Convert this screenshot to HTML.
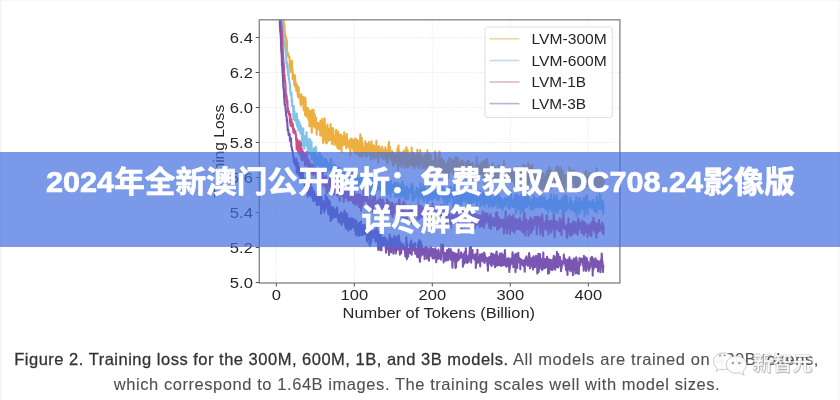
<!DOCTYPE html>
<html lang="zh-CN">
<head>
<meta charset="utf-8">
<title>2024年全新澳门公开解析：免费获取ADC708.24影像版详尽解答</title>
<style>
html,body{margin:0;padding:0}
body{width:840px;height:400px;overflow:hidden;position:relative;background:#fff;font-family:"Liberation Sans",sans-serif}
.edge{position:absolute;left:0;top:0;width:840px;height:400px;box-sizing:border-box;border-left:2px solid #f6f6f6;border-top:1px solid #f8f8f8;border-right:2px solid #f9f9f9}
.chart{position:absolute;left:0;top:0}
.chart,.cap,.wm,.banner svg{filter:blur(0.3px)}
.cap{position:absolute;white-space:nowrap;-webkit-text-stroke:0.1px #505050;font-size:16.5px;line-height:20px;color:#505050;margin:0}
.cap b{font-weight:normal;color:#333;-webkit-text-stroke:0.28px #333}
#c1{top:349.4px;left:14.25px}
#c2{top:374.1px;left:113.75px}
.wm{position:absolute;left:700px;top:340px}
.banner{position:absolute;left:0;top:152px;width:840px;height:95.2px;background:rgba(66,110,222,0.7)}
.banner h1{position:absolute;left:40px;top:10px;width:760px;margin:0;font-size:30px;line-height:37.5px;font-weight:bold;text-align:center;color:transparent}
.banner svg{position:absolute;left:0;top:-152px}
</style>
</head>
<body>
<div class="edge"></div>
<svg class="chart" width="840" height="400" viewBox="0 0 840 400">
<defs><clipPath id="pc"><rect x="259.3" y="19.8" width="360.59999999999997" height="263.2"/></clipPath></defs>
<path d="M276.3,19.8V283.0M354.3,19.8V283.0M432.3,19.8V283.0M510.3,19.8V283.0M588.3,19.8V283.0M259.3,282.5H619.9M259.3,247.5H619.9M259.3,212.5H619.9M259.3,177.5H619.9M259.3,142.5H619.9M259.3,107.5H619.9M259.3,72.5H619.9M259.3,37.5H619.9" stroke="#e4e4e4" stroke-width="1" stroke-dasharray="1 1.6" fill="none"/>
<g clip-path="url(#pc)" fill="none" stroke-width="2.1" stroke-linejoin="round">
<path d="M282.7,13.1 283.0,11.7 283.2,12.5 283.5,18.6 283.7,23.1 284.0,22.7 284.2,24.0 284.5,25.2 284.8,34.1 285.0,37.3 285.3,34.6 285.5,37.4 285.8,36.4 286.0,39.8 286.3,44.6 286.6,46.8 286.8,39.9 287.1,49.8 287.3,52.7 287.6,55.1 287.8,52.6 288.1,53.7 288.4,56.5 288.6,56.8 288.9,56.9 289.1,56.6 289.4,56.4 289.6,60.5 289.9,68.5 290.2,60.9 290.4,69.4 290.7,66.1 290.9,71.9 291.2,67.5 291.4,71.5 291.7,68.9 292.0,60.8 292.2,72.0 292.5,69.6 292.7,79.1 293.0,76.1 293.2,73.4 293.5,77.5 293.8,76.7 294.0,78.9 294.3,84.6 294.5,79.1 294.8,86.0 295.1,75.6 295.3,86.8 295.6,82.6 295.8,86.6 296.1,83.3 296.3,91.2 296.6,84.8 296.9,90.7 297.1,85.1 297.4,88.8 297.6,91.9 297.9,97.0 298.1,90.3 298.4,92.4 298.7,87.3 298.9,97.8 299.2,93.8 299.4,94.7 299.7,96.4 299.9,97.4 300.2,98.1 300.5,102.7 300.7,105.4 301.0,102.9 301.2,98.4 301.5,94.3 301.7,97.6 302.0,97.8 302.3,99.7 302.5,100.7 302.8,103.8 303.0,101.4 303.3,96.8 303.5,108.0 303.8,110.4 304.1,97.5 304.3,106.7 304.6,103.5 304.8,104.5 305.1,115.2 305.3,97.6 305.6,101.4 305.9,110.0 306.1,107.6 306.4,111.2 306.6,116.8 306.9,113.4 307.1,111.4 307.4,108.1 307.7,110.6 307.9,114.4 308.2,108.2 308.4,119.4 308.7,112.0 309.0,110.8 309.2,118.3 309.5,126.4 309.7,122.3 310.0,116.9 310.2,115.9 310.5,111.1 310.8,124.4 311.0,119.7 311.3,116.7 311.5,121.2 311.8,132.7 312.0,116.9 312.3,109.6 312.6,116.5 312.8,126.6 313.1,124.3 313.3,121.3 313.6,110.1 313.8,119.8 314.1,122.6 314.4,115.5 314.6,124.1 314.9,114.5 315.1,127.6 315.4,126.8 315.6,120.9 315.9,117.6 316.2,121.7 316.4,123.7 316.7,134.7 316.9,129.3 317.2,129.0 317.4,128.8 317.7,123.4 318.0,128.3 318.2,122.8 318.5,126.6 318.7,128.9 319.0,126.8 319.2,125.4 319.5,123.5 319.8,130.5 320.0,129.4 320.3,135.4 320.5,120.5 320.8,121.5 321.0,129.9 321.3,131.7 321.6,135.7 321.8,128.8 322.1,128.7 322.3,118.9 322.6,128.9 322.9,134.3 323.1,142.9 323.4,123.5 323.6,129.9 323.9,139.1 324.1,130.2 324.4,139.4 324.7,118.2 324.9,125.9 325.2,128.8 325.4,132.7 325.7,142.8 325.9,132.8 326.2,140.1 326.5,129.4 326.7,143.4 327.0,137.3 327.2,126.6 327.5,124.6 327.7,139.0 328.0,141.0 328.3,128.8 328.5,129.1 328.8,138.6 329.0,137.2 329.3,137.3 329.5,140.0 329.8,137.5 330.1,127.8 330.3,130.8 330.6,124.0 330.8,135.0 331.1,135.4 331.3,139.8 331.6,135.5 331.9,141.7 332.1,144.2 332.4,131.7 332.6,128.1 332.9,131.3 333.1,128.9 333.4,134.5 333.7,139.5 333.9,135.6 334.2,138.0 334.4,141.9 334.7,145.0 334.9,144.0 335.2,136.7 335.5,136.0 335.7,139.3 336.0,129.8 336.2,136.3 336.5,134.4 336.8,131.3 337.0,141.7 337.3,147.7 337.5,134.0 337.8,141.5 338.0,131.5 338.3,136.6 338.6,133.3 338.8,134.7 339.1,149.2 339.3,135.2 339.6,142.4 339.8,142.9 340.1,141.4 340.4,135.4 340.6,135.0 340.9,134.5 341.1,148.2 341.4,142.9 341.6,152.1 341.9,140.6 342.2,137.2 342.4,144.3 342.7,139.3 342.9,139.5 343.2,135.7 343.4,145.1 343.7,145.2 344.0,145.0 344.2,132.4 344.5,135.8 344.7,142.1 345.0,140.5 345.2,141.1 345.5,140.8 345.8,143.0 346.0,143.7 346.3,148.5 346.5,145.5 346.8,134.0 347.0,139.8 347.3,142.2 347.6,143.8 347.8,142.5 348.1,141.1 348.3,146.3 348.6,142.1 348.8,142.0 349.1,147.1 349.4,147.4 349.6,148.6 349.9,149.0 350.1,139.2 350.4,155.8 350.6,145.2 350.9,147.1 351.2,147.2 351.4,143.7 351.7,138.5 351.9,144.0 352.2,145.2 352.5,147.7 352.7,145.3 353.0,140.1 353.2,146.8 353.5,150.7 353.7,151.4 354.0,150.7 354.3,152.3 354.5,139.7 354.8,143.6 355.0,146.7 355.3,138.2 355.5,149.0 355.8,141.9 356.1,141.8 356.3,153.8 356.6,153.9 356.8,150.8 357.1,141.6 357.3,139.7 357.6,152.6 357.9,141.2 358.1,148.5 358.4,148.7 358.6,149.5 358.9,148.5 359.1,156.2 359.4,152.1 359.7,153.4 359.9,144.7 360.2,136.7 360.4,134.2 360.7,149.2 360.9,156.3 361.2,149.7 361.5,152.5 361.7,137.7 362.0,145.0 362.2,151.7 362.5,143.3 362.7,145.4 363.0,156.5 363.3,151.0 363.5,149.6 363.8,148.4 364.0,147.9 364.3,150.3 364.5,147.7 364.8,151.8 365.1,153.4 365.3,141.3 365.6,147.2 365.8,146.9 366.1,157.3 366.4,150.1 366.6,145.2 366.9,156.0 367.1,144.0 367.4,151.6 367.6,147.6 367.9,150.4 368.2,148.7 368.4,143.8 368.7,152.0 368.9,142.1 369.2,154.1 369.4,154.9 369.7,146.7 370.0,155.8 370.2,152.3 370.5,145.9 370.7,144.4 371.0,159.7 371.2,148.1 371.5,141.2 371.8,144.8 372.0,152.1 372.3,154.0 372.5,152.6 372.8,157.0 373.0,152.5 373.3,152.2 373.6,152.0 373.8,145.4 374.1,152.6 374.3,158.9 374.6,146.2 374.8,157.1 375.1,154.0 375.4,152.4 375.6,153.6 375.9,157.0 376.1,153.2 376.4,140.9 376.6,155.1 376.9,152.8 377.2,146.5 377.4,148.5 377.7,148.4 377.9,148.0 378.2,162.4 378.4,156.9 378.7,151.9 379.0,150.1 379.2,146.1 379.5,150.4 379.7,154.0 380.0,152.7 380.3,154.0 380.5,151.7 380.8,149.6 381.0,154.8 381.3,157.3 381.5,157.6 381.8,147.7 382.1,146.8 382.3,148.4 382.6,149.1 382.8,149.3 383.1,153.6 383.3,150.3 383.6,159.0 383.9,154.8 384.1,157.5 384.4,150.2 384.6,156.9 384.9,154.5 385.1,152.0 385.4,147.2 385.7,158.2 385.9,159.0 386.2,150.1 386.4,159.9 386.7,152.1 386.9,157.3 387.2,155.0 387.5,163.8 387.7,151.0 388.0,157.2 388.2,159.3 388.5,144.2 388.7,151.2 389.0,141.7 389.3,152.9 389.5,156.8 389.8,154.5 390.0,147.0 390.3,155.3 390.5,152.9 390.8,152.7 391.1,160.0 391.3,154.7 391.6,158.0 391.8,161.8 392.1,151.1 392.3,152.2 392.6,155.3 392.9,160.3 393.1,165.9 393.4,153.4 393.6,156.4 393.9,164.5 394.2,156.3 394.4,163.8 394.7,156.2 394.9,155.4 395.2,154.4 395.4,155.1 395.7,155.4 396.0,162.1 396.2,158.3 396.5,159.0 396.7,157.7 397.0,155.2 397.2,153.5 397.5,148.4 397.8,169.7 398.0,154.7 398.3,157.8 398.5,145.3 398.8,152.2 399.0,165.4 399.3,155.0 399.6,159.7 399.8,152.1 400.1,162.5 400.3,157.7 400.6,157.9 400.8,157.8 401.1,160.4 401.4,166.8 401.6,155.2 401.9,152.5 402.1,157.9 402.4,162.8 402.6,156.7 402.9,154.9 403.2,158.7 403.4,157.9 403.7,150.8 403.9,163.7 404.2,160.9 404.4,167.8 404.7,161.7 405.0,162.0 405.2,163.1 405.5,161.8 405.7,149.3 406.0,159.4 406.2,159.1 406.5,147.4 406.8,158.9 407.0,167.4 407.3,156.7 407.5,163.5 407.8,150.5 408.0,165.2 408.3,161.9 408.6,167.1 408.8,158.5 409.1,164.2 409.3,159.5 409.6,161.1 409.9,162.3 410.1,154.5 410.4,154.6 410.6,159.1 410.9,164.0 411.1,164.9 411.4,158.2 411.7,147.5 411.9,162.0 412.2,163.7 412.4,163.3 412.7,165.4 412.9,164.8 413.2,161.0 413.5,152.7 413.7,160.0 414.0,162.7 414.2,168.3 414.5,159.1 414.7,160.4 415.0,166.5 415.3,165.8 415.5,160.6 415.8,155.3 416.0,157.3 416.3,159.5 416.5,162.2 416.8,159.0 417.1,160.7 417.3,149.7 417.6,166.5 417.8,162.7 418.1,154.4 418.3,162.3 418.6,153.7 418.9,161.2 419.1,160.3 419.4,163.0 419.6,168.2 419.9,166.1 420.1,150.0 420.4,158.0 420.7,158.3 420.9,156.6 421.2,158.6 421.4,156.3 421.7,162.9 421.9,162.7 422.2,156.7 422.5,163.5 422.7,168.5 423.0,163.0 423.2,164.6 423.5,158.8 423.8,165.6 424.0,167.4 424.3,163.7 424.5,154.2 424.8,162.4 425.0,161.4 425.3,162.2 425.6,160.8 425.8,157.6 426.1,155.3 426.3,170.8 426.6,155.6 426.8,162.5 427.1,164.2 427.4,150.4 427.6,163.5 427.9,152.8 428.1,157.8 428.4,168.0 428.6,160.4 428.9,159.2 429.2,163.6 429.4,174.8 429.7,164.8 429.9,164.1 430.2,168.7 430.4,153.9 430.7,164.5 431.0,165.3 431.2,164.8 431.5,167.3 431.7,167.3 432.0,163.0 432.2,161.9 432.5,166.1 432.8,164.0 433.0,170.7 433.3,161.0 433.5,167.5 433.8,162.7 434.0,168.4 434.3,166.5 434.6,162.8 434.8,170.1 435.1,151.5 435.3,164.2 435.6,164.4 435.8,167.8 436.1,156.1 436.4,157.2 436.6,162.7 436.9,171.2 437.1,166.9 437.4,161.3 437.7,167.0 437.9,170.5 438.2,170.5 438.4,168.5 438.7,164.5 438.9,167.9 439.2,164.6 439.5,151.5 439.7,155.8 440.0,170.1 440.2,163.1 440.5,164.5 440.7,165.6 441.0,159.7 441.3,166.7 441.5,166.7 441.8,167.0 442.0,165.7 442.3,158.7 442.5,161.3 442.8,172.1 443.1,167.6 443.3,169.4 443.6,161.3 443.8,164.3 444.1,161.0 444.3,165.9 444.6,175.3 444.9,163.3 445.1,164.5 445.4,163.1 445.6,172.4 445.9,165.4 446.1,169.3 446.4,169.4 446.7,164.1 446.9,164.2 447.2,170.5 447.4,174.7 447.7,178.6 447.9,169.0 448.2,160.5 448.5,166.5 448.7,177.7 449.0,170.7 449.2,164.2 449.5,157.9 449.7,160.5 450.0,164.6 450.3,165.5 450.5,171.9 450.8,168.9 451.0,168.3 451.3,170.6 451.6,166.4 451.8,168.7 452.1,165.1 452.3,159.5 452.6,163.1 452.8,164.8 453.1,168.2 453.4,174.7 453.6,167.6 453.9,164.3 454.1,172.2 454.4,160.8 454.6,168.9 454.9,165.3 455.2,168.9 455.4,173.7 455.7,156.8 455.9,173.3 456.2,162.7 456.4,170.3 456.7,166.1 457.0,171.6 457.2,169.7 457.5,162.9 457.7,157.8 458.0,172.0 458.2,167.7 458.5,163.0 458.8,171.0 459.0,164.2 459.3,171.9 459.5,164.9 459.8,165.7 460.0,161.8 460.3,166.2 460.6,174.1 460.8,164.7 461.1,173.7 461.3,164.4 461.6,160.6 461.8,165.2 462.1,171.1 462.4,162.3 462.6,167.5 462.9,174.7 463.1,170.2 463.4,161.3 463.6,170.1 463.9,167.9 464.2,170.3 464.4,177.2 464.7,171.3 464.9,166.9 465.2,167.7 465.5,169.7 465.7,179.7 466.0,162.7 466.2,165.2 466.5,163.7 466.7,162.4 467.0,171.3 467.3,172.1 467.5,167.5 467.8,160.6 468.0,177.7 468.3,170.4 468.5,172.9 468.8,166.4 469.1,161.9 469.3,170.8 469.6,175.7 469.8,169.2 470.1,170.9 470.3,177.3 470.6,165.0 470.9,172.2 471.1,166.1 471.4,176.3 471.6,164.1 471.9,177.0 472.1,164.4 472.4,179.0 472.7,162.8 472.9,171.8 473.2,177.8 473.4,171.1 473.7,168.3 473.9,175.0 474.2,172.6 474.5,168.7 474.7,171.0 475.0,183.4 475.2,172.4 475.5,168.1 475.7,168.8 476.0,165.2 476.3,173.9 476.5,157.4 476.8,166.4 477.0,168.9 477.3,165.0 477.5,165.7 477.8,170.1 478.1,173.8 478.3,165.4 478.6,168.5 478.8,180.3 479.1,176.4 479.3,168.4 479.6,170.3 479.9,169.4 480.1,167.6 480.4,170.2 480.6,162.9 480.9,174.0 481.2,173.1 481.4,169.4 481.7,167.3 481.9,167.2 482.2,163.6 482.4,173.6 482.7,165.3 483.0,168.9 483.2,176.6 483.5,172.1 483.7,160.8 484.0,167.5 484.2,173.9 484.5,183.7 484.8,175.3 485.0,175.1 485.3,171.2 485.5,159.9 485.8,167.9 486.0,170.1 486.3,176.5 486.6,177.8 486.8,172.9 487.1,174.2 487.3,158.7 487.6,174.0 487.8,175.1 488.1,166.3 488.4,171.6 488.6,178.3 488.9,165.6 489.1,173.7 489.4,178.9 489.6,170.6 489.9,169.8 490.2,174.0 490.4,168.8 490.7,168.2 490.9,176.9 491.2,182.9 491.4,184.6 491.7,173.1 492.0,166.3 492.2,167.5 492.5,165.5 492.7,163.2 493.0,172.6 493.2,167.3 493.5,180.5 493.8,169.3 494.0,170.8 494.3,173.3 494.5,175.1 494.8,178.6 495.1,172.2 495.3,166.5 495.6,174.9 495.8,170.3 496.1,176.4 496.3,171.8 496.6,178.2 496.9,171.3 497.1,174.3 497.4,171.6 497.6,176.3 497.9,179.3 498.1,175.0 498.4,168.1 498.7,165.4 498.9,175.1 499.2,169.4 499.4,169.7 499.7,171.5 499.9,181.4 500.2,172.0 500.5,178.6 500.7,167.7 501.0,169.7 501.2,170.6 501.5,186.6 501.7,170.6 502.0,170.3 502.3,180.4 502.5,169.0 502.8,173.6 503.0,174.9 503.3,177.6 503.5,179.2 503.8,176.3 504.1,160.9 504.3,173.1 504.6,173.1 504.8,177.5 505.1,177.4 505.3,177.1 505.6,178.8 505.9,169.9 506.1,175.7 506.4,170.0 506.6,180.3 506.9,169.7 507.1,174.6 507.4,171.1 507.7,175.1 507.9,179.1 508.2,168.5 508.4,176.9 508.7,175.4 509.0,179.2 509.2,173.7 509.5,176.7 509.7,173.4 510.0,173.1 510.2,178.3 510.5,182.0 510.8,172.7 511.0,170.3 511.3,171.4 511.5,180.8 511.8,171.9 512.0,173.1 512.3,173.6 512.6,172.9 512.8,176.8 513.1,174.1 513.3,170.5 513.6,177.8 513.8,182.5 514.1,175.8 514.4,174.3 514.6,184.7 514.9,178.7 515.1,172.3 515.4,176.1 515.6,174.9 515.9,181.8 516.2,170.8 516.4,166.6 516.7,176.5 516.9,179.2 517.2,181.4 517.4,171.0 517.7,175.1 518.0,179.6 518.2,169.5 518.5,171.8 518.7,172.6 519.0,184.6 519.2,176.3 519.5,172.6 519.8,182.0 520.0,171.1 520.3,168.6 520.5,170.6 520.8,179.5 521.0,179.5 521.3,171.1 521.6,170.9 521.8,169.7 522.1,169.9 522.3,176.5 522.6,178.1 522.9,185.5 523.1,172.1 523.4,164.6 523.6,178.5 523.9,178.6 524.1,172.9 524.4,174.3 524.7,183.2 524.9,179.9 525.2,181.8 525.4,166.0 525.7,180.0 525.9,172.0 526.2,166.6 526.5,166.8 526.7,169.2 527.0,168.2 527.2,182.7 527.5,178.2 527.7,180.2 528.0,178.0 528.3,163.4 528.5,185.1 528.8,173.8 529.0,182.9 529.3,169.9 529.5,170.1 529.8,179.3 530.1,166.2 530.3,176.4 530.6,170.1 530.8,175.2 531.1,179.6 531.3,178.8 531.6,177.5 531.9,173.7 532.1,176.3 532.4,164.9 532.6,177.9 532.9,179.3 533.1,180.6 533.4,181.0 533.7,184.3 533.9,182.1 534.2,172.5 534.4,176.8 534.7,178.0 534.9,175.4 535.2,171.8 535.5,174.1 535.7,173.3 536.0,180.1 536.2,178.6 536.5,181.2 536.7,177.8 537.0,181.5 537.3,179.2 537.5,178.3 537.8,178.5 538.0,178.8 538.3,179.9 538.6,170.8 538.8,179.2 539.1,182.6 539.3,176.5 539.6,183.1 539.8,183.0 540.1,177.2 540.4,186.1 540.6,190.8 540.9,176.2 541.1,172.4 541.4,186.2 541.6,182.3 541.9,174.8 542.2,187.9 542.4,182.2 542.7,183.9 542.9,178.8 543.2,187.9 543.4,173.3 543.7,178.6 544.0,176.4 544.2,179.6 544.5,188.7 544.7,178.8 545.0,184.8 545.2,178.0 545.5,182.4 545.8,179.7 546.0,179.2 546.3,174.2 546.5,174.3 546.8,183.3 547.0,178.3 547.3,170.8 547.6,175.7 547.8,182.0 548.1,178.9 548.3,180.1 548.6,173.5 548.8,178.2 549.1,176.4 549.4,167.1 549.6,185.4 549.9,183.6 550.1,187.2 550.4,186.5 550.6,174.1 550.9,177.0 551.2,170.2 551.4,188.5 551.7,183.0 551.9,171.2 552.2,173.4 552.5,174.1 552.7,174.2 553.0,178.5 553.2,178.7 553.5,178.5 553.7,174.4 554.0,179.5 554.3,177.1 554.5,171.4 554.8,184.5 555.0,182.6 555.3,175.9 555.5,180.1 555.8,179.6 556.1,168.2 556.3,176.8 556.6,181.0 556.8,173.3 557.1,166.1 557.3,184.6 557.6,182.4 557.9,178.4 558.1,182.2 558.4,168.0 558.6,176.4 558.9,181.1 559.1,176.6 559.4,183.1 559.7,182.2 559.9,178.6 560.2,167.0 560.4,190.6 560.7,177.0 560.9,172.3 561.2,175.4 561.5,169.5 561.7,176.9 562.0,178.5 562.2,179.9 562.5,183.6 562.7,171.0 563.0,185.3 563.3,180.0 563.5,182.0 563.8,183.4 564.0,190.7 564.3,181.3 564.5,178.7 564.8,178.7 565.1,175.2 565.3,180.3 565.6,182.7 565.8,177.9 566.1,176.1 566.4,184.1 566.6,187.3 566.9,184.8 567.1,174.2 567.4,174.5 567.6,184.1 567.9,179.1 568.2,175.4 568.4,172.9 568.7,183.0 568.9,180.9 569.2,172.6 569.4,167.5 569.7,172.0 570.0,185.6 570.2,177.5 570.5,181.3 570.7,180.1 571.0,183.2 571.2,182.3 571.5,179.9 571.8,170.7 572.0,176.4 572.3,177.8 572.5,179.8 572.8,183.8 573.0,181.1 573.3,173.7 573.6,175.8 573.8,170.1 574.1,178.7 574.3,180.2 574.6,188.3 574.8,178.1 575.1,188.9 575.4,172.4 575.6,183.3 575.9,180.2 576.1,187.0 576.4,182.7 576.6,184.9 576.9,174.5 577.2,179.0 577.4,186.2 577.7,190.1 577.9,180.6 578.2,182.8 578.4,186.0 578.7,177.3 579.0,181.3 579.2,179.8 579.5,183.4 579.7,183.3 580.0,182.8 580.3,188.6 580.5,177.3 580.8,178.4 581.0,189.2 581.3,180.0 581.5,174.7 581.8,179.3 582.1,174.0 582.3,181.9 582.6,180.6 582.8,187.2 583.1,185.2 583.3,189.9 583.6,185.2 583.9,179.4 584.1,178.0 584.4,174.8 584.6,180.0 584.9,185.8 585.1,178.6 585.4,181.5 585.7,171.7 585.9,170.9 586.2,175.9 586.4,186.6 586.7,183.5 586.9,179.9 587.2,184.5 587.5,178.2 587.7,177.4 588.0,176.7 588.2,179.8 588.5,185.4 588.7,185.2 589.0,181.6 589.3,174.3 589.5,173.0 589.8,176.1 590.0,179.2 590.3,177.6 590.5,176.9 590.8,174.5 591.1,176.8 591.3,188.9 591.6,176.3 591.8,179.2 592.1,183.5 592.3,178.5 592.6,179.7 592.9,181.5 593.1,189.8 593.4,180.7 593.6,178.4 593.9,181.5 594.2,189.4 594.4,179.0 594.7,177.7 594.9,180.4 595.2,179.2 595.4,183.2 595.7,184.7 596.0,178.7 596.2,183.2 596.5,180.5 596.7,168.3 597.0,177.9 597.2,180.8 597.5,189.7 597.8,181.0 598.0,177.7 598.3,185.1 598.5,182.8 598.8,193.0 599.0,178.8 599.3,184.6 599.6,178.1 599.8,174.7 600.1,182.5 600.3,176.7 600.6,180.4 600.8,182.7 601.1,183.1 601.4,186.0 601.6,175.2 601.9,177.3 602.1,186.9 602.4,177.5 602.6,185.5 602.9,189.4 603.2,175.7 603.4,188.3 603.7,175.8" stroke="#EDB040"/>
<path d="M281.4,13.9 281.6,13.0 281.9,16.5 282.1,19.5 282.4,19.3 282.7,23.9 282.9,27.6 283.2,26.3 283.4,34.5 283.7,39.5 283.9,42.8 284.2,43.4 284.5,43.1 284.7,44.9 285.0,46.5 285.2,47.0 285.5,49.4 285.7,54.1 286.0,54.5 286.3,58.2 286.5,63.4 286.8,61.7 287.0,65.7 287.3,68.4 287.5,64.3 287.8,69.5 288.1,74.9 288.3,75.6 288.6,70.4 288.8,79.8 289.1,78.7 289.3,80.9 289.6,83.1 289.9,84.7 290.1,89.9 290.4,91.8 290.6,92.7 290.9,95.2 291.2,93.2 291.4,92.5 291.7,102.2 291.9,99.1 292.2,105.8 292.4,106.4 292.7,106.4 293.0,106.6 293.2,109.9 293.5,118.9 293.7,105.7 294.0,112.8 294.2,115.1 294.5,111.2 294.8,116.8 295.0,120.8 295.3,114.2 295.5,115.3 295.8,120.9 296.0,115.1 296.3,117.7 296.6,124.4 296.8,113.5 297.1,120.2 297.3,126.7 297.6,120.9 297.8,122.9 298.1,120.0 298.4,130.5 298.6,121.0 298.9,122.1 299.1,123.8 299.4,124.8 299.6,122.3 299.9,125.5 300.2,128.8 300.4,133.7 300.7,125.7 300.9,126.9 301.2,130.5 301.4,131.8 301.7,129.9 302.0,144.8 302.2,132.8 302.5,145.9 302.7,134.4 303.0,131.3 303.2,128.2 303.5,139.2 303.8,135.8 304.0,138.6 304.3,148.7 304.5,136.1 304.8,139.9 305.1,140.1 305.3,145.1 305.6,141.6 305.8,141.6 306.1,136.8 306.3,141.6 306.6,132.3 306.9,145.7 307.1,145.6 307.4,145.1 307.6,148.9 307.9,139.1 308.1,143.4 308.4,152.3 308.7,146.7 308.9,142.5 309.2,154.3 309.4,147.8 309.7,149.9 309.9,139.0 310.2,147.9 310.5,151.9 310.7,153.0 311.0,142.5 311.2,153.3 311.5,141.5 311.7,158.9 312.0,153.1 312.3,153.7 312.5,156.0 312.8,154.2 313.0,150.5 313.3,156.8 313.5,160.5 313.8,148.4 314.1,148.1 314.3,158.0 314.6,153.8 314.8,166.9 315.1,151.1 315.3,161.9 315.6,158.7 315.9,146.9 316.1,162.4 316.4,157.0 316.6,162.1 316.9,165.8 317.1,163.0 317.4,156.9 317.7,164.1 317.9,161.2 318.2,155.6 318.4,159.8 318.7,165.1 319.0,152.9 319.2,159.3 319.5,153.8 319.7,164.9 320.0,153.0 320.2,166.7 320.5,168.7 320.8,163.1 321.0,163.1 321.3,160.5 321.5,164.4 321.8,159.3 322.0,156.4 322.3,165.4 322.6,168.9 322.8,164.7 323.1,159.5 323.3,159.7 323.6,165.1 323.8,168.1 324.1,164.0 324.4,159.8 324.6,167.5 324.9,158.7 325.1,163.6 325.4,163.5 325.6,167.8 325.9,159.1 326.2,165.1 326.4,172.1 326.7,162.0 326.9,167.7 327.2,161.2 327.4,165.4 327.7,169.1 328.0,165.7 328.2,168.8 328.5,170.4 328.7,166.8 329.0,163.4 329.2,166.9 329.5,167.8 329.8,170.0 330.0,165.2 330.3,166.7 330.5,163.8 330.8,166.5 331.0,158.9 331.3,175.4 331.6,168.9 331.8,166.4 332.1,164.9 332.3,175.9 332.6,174.6 332.9,169.5 333.1,164.8 333.4,164.8 333.6,176.5 333.9,169.4 334.1,164.9 334.4,170.1 334.7,174.9 334.9,173.7 335.2,176.6 335.4,165.5 335.7,172.1 335.9,173.0 336.2,175.1 336.5,172.0 336.7,175.5 337.0,175.9 337.2,171.9 337.5,172.9 337.7,170.0 338.0,171.5 338.3,167.0 338.5,172.6 338.8,171.4 339.0,171.7 339.3,176.4 339.5,167.7 339.8,175.6 340.1,180.2 340.3,167.8 340.6,170.6 340.8,176.1 341.1,169.5 341.3,169.6 341.6,170.9 341.9,179.3 342.1,173.4 342.4,178.9 342.6,177.2 342.9,177.1 343.1,178.5 343.4,172.7 343.7,178.4 343.9,172.3 344.2,174.4 344.4,178.0 344.7,174.7 344.9,172.5 345.2,170.6 345.5,176.9 345.7,168.2 346.0,173.4 346.2,170.6 346.5,182.2 346.7,181.0 347.0,171.1 347.3,177.5 347.5,174.6 347.8,171.4 348.0,183.2 348.3,174.9 348.6,168.5 348.8,173.6 349.1,176.8 349.3,174.8 349.6,177.4 349.8,174.1 350.1,171.9 350.4,178.7 350.6,175.3 350.9,176.6 351.1,174.7 351.4,174.4 351.6,182.9 351.9,173.1 352.2,174.6 352.4,183.3 352.7,179.8 352.9,185.1 353.2,180.0 353.4,177.4 353.7,184.1 354.0,182.5 354.2,183.0 354.5,182.3 354.7,182.7 355.0,184.1 355.2,177.0 355.5,180.6 355.8,183.3 356.0,175.4 356.3,182.4 356.5,176.0 356.8,185.5 357.0,174.0 357.3,182.2 357.6,184.5 357.8,178.6 358.1,186.4 358.3,185.4 358.6,179.6 358.8,182.9 359.1,179.1 359.4,180.3 359.6,179.9 359.9,180.5 360.1,178.1 360.4,181.3 360.6,176.5 360.9,177.3 361.2,190.2 361.4,189.4 361.7,174.9 361.9,183.8 362.2,181.1 362.5,182.5 362.7,180.9 363.0,172.4 363.2,185.4 363.5,182.0 363.7,182.4 364.0,187.2 364.3,186.4 364.5,183.8 364.8,182.8 365.0,181.1 365.3,191.5 365.5,189.9 365.8,175.8 366.1,183.9 366.3,179.6 366.6,185.2 366.8,186.5 367.1,174.2 367.3,189.0 367.6,187.6 367.9,180.7 368.1,183.7 368.4,191.1 368.6,183.3 368.9,180.8 369.1,190.8 369.4,186.6 369.7,180.8 369.9,175.9 370.2,194.6 370.4,187.4 370.7,184.4 370.9,188.5 371.2,188.6 371.5,186.8 371.7,182.4 372.0,189.4 372.2,181.0 372.5,181.2 372.7,181.1 373.0,178.2 373.3,187.3 373.5,185.3 373.8,180.7 374.0,179.6 374.3,181.0 374.5,187.2 374.8,187.4 375.1,191.1 375.3,187.3 375.6,189.3 375.8,187.6 376.1,187.2 376.4,181.9 376.6,181.8 376.9,185.9 377.1,190.7 377.4,186.0 377.6,183.9 377.9,182.1 378.2,185.0 378.4,182.4 378.7,188.9 378.9,183.2 379.2,182.8 379.4,187.7 379.7,189.5 380.0,180.8 380.2,190.6 380.5,183.3 380.7,187.5 381.0,187.9 381.2,187.5 381.5,188.4 381.8,186.7 382.0,178.7 382.3,180.2 382.5,187.2 382.8,184.6 383.0,182.8 383.3,188.6 383.6,178.8 383.8,186.7 384.1,184.2 384.3,191.1 384.6,191.9 384.8,191.4 385.1,189.9 385.4,182.6 385.6,188.6 385.9,183.3 386.1,189.1 386.4,191.5 386.6,186.6 386.9,189.1 387.2,194.7 387.4,187.3 387.7,182.3 387.9,188.5 388.2,192.9 388.4,191.0 388.7,193.0 389.0,188.8 389.2,191.9 389.5,188.3 389.7,187.1 390.0,182.1 390.3,193.0 390.5,197.0 390.8,180.9 391.0,186.2 391.3,189.7 391.5,185.9 391.8,192.2 392.1,189.7 392.3,185.3 392.6,189.7 392.8,187.8 393.1,186.5 393.3,187.9 393.6,189.5 393.9,186.3 394.1,182.7 394.4,183.0 394.6,192.5 394.9,185.3 395.1,197.0 395.4,194.9 395.7,187.0 395.9,186.5 396.2,182.9 396.4,196.4 396.7,184.2 396.9,191.4 397.2,191.1 397.5,187.1 397.7,182.9 398.0,193.3 398.2,196.7 398.5,191.8 398.7,189.8 399.0,184.0 399.3,187.7 399.5,190.7 399.8,191.6 400.0,191.5 400.3,185.2 400.5,196.8 400.8,192.6 401.1,193.4 401.3,184.7 401.6,189.1 401.8,192.7 402.1,186.5 402.3,181.3 402.6,185.4 402.9,195.6 403.1,190.8 403.4,185.0 403.6,197.9 403.9,195.4 404.1,191.9 404.4,187.8 404.7,193.8 404.9,189.6 405.2,190.9 405.4,188.9 405.7,195.6 406.0,200.1 406.2,199.8 406.5,189.7 406.7,186.2 407.0,188.4 407.2,197.6 407.5,198.2 407.8,191.9 408.0,194.7 408.3,198.8 408.5,193.3 408.8,194.3 409.0,191.4 409.3,189.2 409.6,190.1 409.8,190.2 410.1,188.7 410.3,191.5 410.6,193.1 410.8,192.6 411.1,186.0 411.4,192.4 411.6,187.7 411.9,184.0 412.1,183.7 412.4,200.7 412.6,190.7 412.9,187.1 413.2,193.5 413.4,194.6 413.7,197.8 413.9,194.5 414.2,191.6 414.4,199.9 414.7,191.8 415.0,195.4 415.2,191.7 415.5,196.5 415.7,191.5 416.0,191.2 416.2,195.0 416.5,194.9 416.8,187.9 417.0,189.3 417.3,195.5 417.5,190.2 417.8,197.2 418.0,194.4 418.3,203.7 418.6,194.7 418.8,189.3 419.1,194.5 419.3,189.8 419.6,195.2 419.9,191.1 420.1,193.1 420.4,196.8 420.6,183.4 420.9,196.3 421.1,198.5 421.4,192.1 421.7,190.6 421.9,191.2 422.2,193.2 422.4,190.7 422.7,188.7 422.9,190.1 423.2,198.9 423.5,185.4 423.7,193.1 424.0,201.9 424.2,189.4 424.5,193.7 424.7,191.9 425.0,184.4 425.3,195.5 425.5,195.9 425.8,197.5 426.0,192.4 426.3,190.4 426.5,191.6 426.8,192.6 427.1,202.7 427.3,192.3 427.6,188.7 427.8,195.7 428.1,195.9 428.3,198.0 428.6,192.5 428.9,200.4 429.1,185.3 429.4,194.6 429.6,196.3 429.9,199.1 430.1,191.4 430.4,189.6 430.7,196.3 430.9,193.1 431.2,192.6 431.4,189.7 431.7,191.3 431.9,188.6 432.2,200.2 432.5,182.8 432.7,196.3 433.0,199.0 433.2,198.2 433.5,192.5 433.8,190.9 434.0,183.7 434.3,188.9 434.5,197.7 434.8,195.9 435.0,196.4 435.3,197.1 435.6,195.2 435.8,197.2 436.1,189.4 436.3,193.1 436.6,191.9 436.8,195.3 437.1,199.7 437.4,192.8 437.6,196.4 437.9,186.0 438.1,189.4 438.4,200.1 438.6,199.2 438.9,197.3 439.2,195.8 439.4,189.9 439.7,195.7 439.9,193.0 440.2,196.4 440.4,196.0 440.7,189.7 441.0,195.1 441.2,186.5 441.5,195.4 441.7,193.5 442.0,193.5 442.2,192.4 442.5,186.9 442.8,198.3 443.0,197.7 443.3,199.5 443.5,187.5 443.8,193.4 444.0,193.5 444.3,193.5 444.6,203.6 444.8,192.2 445.1,195.0 445.3,194.3 445.6,195.3 445.8,196.1 446.1,196.0 446.4,198.2 446.6,196.8 446.9,193.0 447.1,205.1 447.4,192.2 447.7,193.1 447.9,200.6 448.2,193.7 448.4,194.6 448.7,198.3 448.9,188.6 449.2,195.3 449.5,196.7 449.7,201.8 450.0,186.6 450.2,195.2 450.5,194.8 450.7,197.2 451.0,187.2 451.3,196.9 451.5,189.4 451.8,191.7 452.0,192.1 452.3,193.6 452.5,191.4 452.8,197.0 453.1,205.5 453.3,208.0 453.6,191.7 453.8,205.6 454.1,190.7 454.3,185.3 454.6,204.9 454.9,194.0 455.1,194.6 455.4,199.9 455.6,205.4 455.9,197.2 456.1,189.4 456.4,197.3 456.7,196.9 456.9,196.5 457.2,196.8 457.4,195.7 457.7,187.0 457.9,200.9 458.2,205.0 458.5,193.4 458.7,199.4 459.0,199.3 459.2,203.3 459.5,198.0 459.7,199.1 460.0,195.4 460.3,199.0 460.5,203.7 460.8,195.2 461.0,197.7 461.3,205.6 461.6,198.9 461.8,194.1 462.1,197.7 462.3,198.9 462.6,194.9 462.8,200.3 463.1,200.6 463.4,195.3 463.6,198.3 463.9,200.4 464.1,196.7 464.4,196.6 464.6,193.7 464.9,193.4 465.2,197.4 465.4,197.9 465.7,201.9 465.9,197.0 466.2,199.5 466.4,194.3 466.7,194.5 467.0,195.2 467.2,198.2 467.5,196.6 467.7,191.5 468.0,190.6 468.2,200.7 468.5,209.6 468.8,195.4 469.0,204.9 469.3,198.0 469.5,196.2 469.8,191.7 470.0,199.0 470.3,198.8 470.6,200.8 470.8,197.0 471.1,203.7 471.3,195.9 471.6,196.9 471.8,192.6 472.1,199.8 472.4,197.1 472.6,197.7 472.9,198.6 473.1,202.8 473.4,201.1 473.6,198.4 473.9,196.5 474.2,194.2 474.4,201.3 474.7,197.6 474.9,196.1 475.2,195.0 475.4,197.7 475.7,197.9 476.0,200.4 476.2,198.7 476.5,199.7 476.7,206.5 477.0,202.0 477.3,209.4 477.5,196.8 477.8,195.2 478.0,200.6 478.3,198.3 478.5,198.4 478.8,200.2 479.1,192.7 479.3,200.0 479.6,197.8 479.8,199.5 480.1,190.5 480.3,206.4 480.6,198.4 480.9,205.1 481.1,202.4 481.4,203.5 481.6,196.0 481.9,204.1 482.1,203.8 482.4,200.9 482.7,203.6 482.9,203.8 483.2,192.6 483.4,202.4 483.7,203.0 483.9,193.6 484.2,199.2 484.5,194.8 484.7,206.7 485.0,200.9 485.2,197.6 485.5,198.8 485.7,197.4 486.0,194.3 486.3,197.2 486.5,195.0 486.8,196.6 487.0,203.1 487.3,199.0 487.5,194.2 487.8,204.0 488.1,197.6 488.3,197.2 488.6,194.2 488.8,207.3 489.1,189.7 489.3,206.8 489.6,200.1 489.9,189.1 490.1,206.0 490.4,190.4 490.6,199.0 490.9,191.8 491.2,193.9 491.4,199.6 491.7,203.7 491.9,201.6 492.2,205.9 492.4,206.3 492.7,198.7 493.0,206.7 493.2,198.8 493.5,200.7 493.7,201.0 494.0,205.0 494.2,205.9 494.5,197.0 494.8,204.7 495.0,203.1 495.3,201.4 495.5,197.6 495.8,192.0 496.0,192.1 496.3,197.2 496.6,197.8 496.8,197.8 497.1,201.7 497.3,201.7 497.6,208.3 497.8,198.4 498.1,203.0 498.4,199.2 498.6,191.1 498.9,197.1 499.1,195.9 499.4,197.1 499.6,203.4 499.9,203.8 500.2,207.4 500.4,203.5 500.7,200.3 500.9,198.1 501.2,198.6 501.4,202.6 501.7,206.1 502.0,201.0 502.2,199.8 502.5,209.8 502.7,200.8 503.0,207.5 503.2,203.3 503.5,201.9 503.8,205.6 504.0,203.6 504.3,201.3 504.5,205.8 504.8,198.4 505.1,198.6 505.3,199.1 505.6,206.1 505.8,202.4 506.1,203.0 506.3,201.1 506.6,198.3 506.9,203.9 507.1,201.5 507.4,198.1 507.6,203.1 507.9,198.6 508.1,201.8 508.4,207.9 508.7,201.9 508.9,201.1 509.2,203.6 509.4,193.5 509.7,203.5 509.9,208.2 510.2,202.6 510.5,202.9 510.7,199.7 511.0,190.9 511.2,201.3 511.5,198.4 511.7,205.1 512.0,206.1 512.3,205.1 512.5,202.9 512.8,204.0 513.0,202.1 513.3,204.9 513.5,207.3 513.8,205.5 514.1,198.7 514.3,207.1 514.6,198.7 514.8,195.0 515.1,206.2 515.3,198.2 515.6,198.5 515.9,213.6 516.1,198.5 516.4,199.4 516.6,205.6 516.9,194.5 517.1,210.0 517.4,196.6 517.7,201.1 517.9,206.8 518.2,201.8 518.4,209.0 518.7,199.7 519.0,199.9 519.2,197.0 519.5,196.2 519.7,205.4 520.0,200.2 520.2,205.1 520.5,213.9 520.8,198.3 521.0,197.3 521.3,201.5 521.5,194.9 521.8,202.7 522.0,210.0 522.3,204.5 522.6,203.7 522.8,201.3 523.1,204.3 523.3,212.3 523.6,208.0 523.8,203.2 524.1,197.7 524.4,205.5 524.6,208.3 524.9,204.7 525.1,198.6 525.4,197.2 525.6,206.9 525.9,199.7 526.2,196.9 526.4,199.2 526.7,207.5 526.9,200.1 527.2,204.9 527.4,205.0 527.7,194.3 528.0,202.9 528.2,200.6 528.5,197.4 528.7,195.6 529.0,201.6 529.2,205.5 529.5,203.0 529.8,205.8 530.0,203.4 530.3,203.4 530.5,209.4 530.8,206.3 531.0,209.1 531.3,203.2 531.6,199.4 531.8,199.7 532.1,202.1 532.3,207.2 532.6,203.3 532.8,209.0 533.1,200.5 533.4,209.8 533.6,205.8 533.9,195.5 534.1,201.2 534.4,207.3 534.7,204.0 534.9,207.6 535.2,206.6 535.4,204.9 535.7,206.8 535.9,202.3 536.2,198.4 536.5,206.9 536.7,207.2 537.0,206.7 537.2,205.9 537.5,202.6 537.7,206.1 538.0,207.1 538.3,206.2 538.5,198.9 538.8,199.0 539.0,198.7 539.3,202.5 539.5,207.4 539.8,197.3 540.1,193.6 540.3,206.2 540.6,206.0 540.8,198.6 541.1,200.3 541.3,201.6 541.6,194.2 541.9,204.2 542.1,206.9 542.4,205.0 542.6,202.4 542.9,202.6 543.1,198.0 543.4,200.1 543.7,206.6 543.9,200.3 544.2,204.3 544.4,196.9 544.7,198.5 544.9,206.1 545.2,201.1 545.5,209.2 545.7,201.5 546.0,203.2 546.2,201.6 546.5,208.9 546.7,207.3 547.0,206.1 547.3,204.6 547.5,200.7 547.8,207.2 548.0,212.5 548.3,206.1 548.6,200.3 548.8,199.9 549.1,209.3 549.3,200.9 549.6,203.3 549.8,200.6 550.1,203.0 550.4,198.3 550.6,206.9 550.9,194.3 551.1,199.0 551.4,208.9 551.6,210.6 551.9,199.3 552.2,210.7 552.4,207.3 552.7,201.7 552.9,204.5 553.2,203.2 553.4,213.3 553.7,207.2 554.0,201.7 554.2,194.8 554.5,202.1 554.7,203.8 555.0,203.4 555.2,199.5 555.5,201.2 555.8,207.9 556.0,212.7 556.3,205.0 556.5,205.7 556.8,196.0 557.0,207.8 557.3,200.7 557.6,212.8 557.8,200.6 558.1,209.8 558.3,204.0 558.6,205.0 558.8,203.7 559.1,204.1 559.4,209.2 559.6,201.5 559.9,208.1 560.1,204.4 560.4,207.9 560.6,204.3 560.9,204.7 561.2,205.1 561.4,207.7 561.7,198.9 561.9,205.0 562.2,204.0 562.5,213.9 562.7,201.7 563.0,211.2 563.2,205.2 563.5,213.3 563.7,196.0 564.0,212.1 564.3,205.5 564.5,209.9 564.8,210.0 565.0,212.1 565.3,198.0 565.5,195.0 565.8,205.0 566.1,200.8 566.3,206.6 566.6,209.2 566.8,196.5 567.1,201.7 567.3,209.6 567.6,205.0 567.9,204.6 568.1,205.8 568.4,204.9 568.6,207.5 568.9,204.9 569.1,206.4 569.4,206.0 569.7,208.0 569.9,197.8 570.2,206.5 570.4,205.6 570.7,203.6 570.9,204.6 571.2,210.4 571.5,200.9 571.7,210.1 572.0,207.6 572.2,202.9 572.5,205.7 572.7,207.9 573.0,204.7 573.3,208.5 573.5,207.4 573.8,210.0 574.0,210.3 574.3,209.2 574.5,204.6 574.8,207.1 575.1,205.5 575.3,200.9 575.6,206.9 575.8,213.0 576.1,204.6 576.4,197.1 576.6,216.0 576.9,206.1 577.1,209.9 577.4,211.6 577.6,201.5 577.9,205.2 578.2,205.1 578.4,210.7 578.7,207.2 578.9,209.9 579.2,198.4 579.4,205.2 579.7,213.9 580.0,206.5 580.2,198.6 580.5,208.5 580.7,206.3 581.0,205.4 581.2,203.0 581.5,203.0 581.8,207.8 582.0,206.7 582.3,202.1 582.5,209.6 582.8,206.6 583.0,203.7 583.3,206.2 583.6,209.5 583.8,198.0 584.1,204.5 584.3,206.4 584.6,216.3 584.8,200.4 585.1,201.1 585.4,205.4 585.6,205.1 585.9,208.9 586.1,196.4 586.4,201.3 586.6,195.4 586.9,195.3 587.2,213.2 587.4,202.4 587.7,214.3 587.9,203.6 588.2,205.1 588.4,207.7 588.7,202.4 589.0,204.6 589.2,206.7 589.5,206.4 589.7,201.2 590.0,203.2 590.3,201.6 590.5,203.9 590.8,207.3 591.0,207.4 591.3,204.3 591.5,208.4 591.8,208.1 592.1,201.8 592.3,204.4 592.6,206.3 592.8,204.4 593.1,207.0 593.3,199.7 593.6,206.2 593.9,205.2 594.1,210.5 594.4,208.4 594.6,211.1 594.9,203.5 595.1,203.0 595.4,202.7 595.7,206.9 595.9,205.2 596.2,203.8 596.4,207.0 596.7,212.8 596.9,196.8 597.2,203.3 597.5,201.5 597.7,201.9 598.0,208.7 598.2,205.6 598.5,207.6 598.7,200.8 599.0,204.7 599.3,208.6 599.5,204.1 599.8,194.0 600.0,205.6 600.3,203.4 600.5,196.3 600.8,209.6 601.1,204.2 601.3,200.2 601.6,202.7 601.8,208.2 602.1,205.7 602.3,205.1 602.6,201.4 602.9,201.1 603.1,214.2 603.4,205.3 603.6,208.8 603.9,204.3" stroke="#7FC4E6"/>
<path d="M280.4,13.4 280.7,13.4 280.9,20.7 281.2,25.8 281.5,25.5 281.7,28.6 282.0,33.3 282.2,37.5 282.5,43.6 282.8,49.7 283.0,54.8 283.3,57.9 283.5,62.4 283.8,63.5 284.0,68.0 284.3,76.0 284.6,75.0 284.8,80.2 285.1,80.8 285.3,83.1 285.6,88.5 285.8,97.3 286.1,93.8 286.4,101.9 286.6,95.9 286.9,103.7 287.1,104.2 287.4,100.2 287.6,111.5 287.9,107.9 288.2,112.4 288.4,112.2 288.7,114.2 288.9,111.1 289.2,115.1 289.4,114.3 289.7,114.4 290.0,122.7 290.2,114.0 290.5,120.2 290.7,125.7 291.0,123.5 291.2,119.4 291.5,119.9 291.8,126.4 292.0,124.7 292.3,125.1 292.5,123.2 292.8,128.1 293.0,125.0 293.3,132.5 293.6,132.7 293.8,128.6 294.1,129.1 294.3,132.8 294.6,131.1 294.8,133.4 295.1,132.0 295.4,131.3 295.6,134.5 295.9,134.1 296.1,139.7 296.4,141.1 296.7,149.2 296.9,138.8 297.2,141.1 297.4,139.8 297.7,150.6 297.9,145.6 298.2,146.7 298.5,152.9 298.7,142.0 299.0,141.3 299.2,153.0 299.5,146.2 299.7,141.2 300.0,155.0 300.3,145.8 300.5,143.8 300.8,143.2 301.0,158.3 301.3,157.5 301.5,152.4 301.8,148.6 302.1,160.1 302.3,158.3 302.6,160.5 302.8,151.0 303.1,159.0 303.3,154.4 303.6,154.5 303.9,152.7 304.1,156.5 304.4,157.3 304.6,154.0 304.9,157.6 305.1,165.8 305.4,163.0 305.7,157.0 305.9,160.8 306.2,163.5 306.4,161.2 306.7,151.9 306.9,163.4 307.2,161.4 307.5,161.9 307.7,165.6 308.0,159.4 308.2,161.3 308.5,163.7 308.7,171.9 309.0,160.5 309.3,163.1 309.5,167.3 309.8,179.1 310.0,167.8 310.3,173.3 310.5,169.2 310.8,170.8 311.1,172.5 311.3,164.5 311.6,168.8 311.8,164.1 312.1,174.2 312.4,171.1 312.6,164.3 312.9,169.3 313.1,174.3 313.4,175.3 313.6,174.2 313.9,172.2 314.2,169.0 314.4,171.7 314.7,169.2 314.9,169.1 315.2,172.6 315.4,167.6 315.7,170.3 316.0,174.7 316.2,174.9 316.5,174.5 316.7,178.0 317.0,180.9 317.2,175.0 317.5,177.7 317.8,173.0 318.0,178.6 318.3,175.7 318.5,175.5 318.8,178.7 319.0,176.0 319.3,180.3 319.6,179.2 319.8,173.9 320.1,176.0 320.3,178.0 320.6,181.7 320.8,175.3 321.1,169.6 321.4,188.6 321.6,174.3 321.9,178.3 322.1,174.5 322.4,174.4 322.6,184.5 322.9,172.3 323.2,183.0 323.4,181.6 323.7,177.9 323.9,181.3 324.2,179.9 324.4,183.6 324.7,186.2 325.0,181.6 325.2,186.8 325.5,176.1 325.7,181.2 326.0,176.2 326.3,188.3 326.5,192.2 326.8,193.3 327.0,185.0 327.3,189.3 327.5,182.0 327.8,190.4 328.1,190.3 328.3,183.0 328.6,186.2 328.8,181.5 329.1,181.1 329.3,183.4 329.6,190.6 329.9,189.2 330.1,175.3 330.4,186.7 330.6,184.5 330.9,185.5 331.1,186.3 331.4,187.1 331.7,189.1 331.9,189.0 332.2,195.9 332.4,179.6 332.7,187.7 332.9,193.3 333.2,185.3 333.5,184.7 333.7,194.4 334.0,190.4 334.2,181.5 334.5,186.0 334.7,186.7 335.0,184.3 335.3,189.5 335.5,190.4 335.8,182.1 336.0,190.2 336.3,189.9 336.5,186.8 336.8,189.7 337.1,195.6 337.3,181.7 337.6,190.6 337.8,182.4 338.1,188.3 338.3,194.8 338.6,183.9 338.9,191.8 339.1,195.0 339.4,191.4 339.6,201.0 339.9,189.7 340.2,194.9 340.4,192.8 340.7,195.8 340.9,188.9 341.2,190.4 341.4,187.3 341.7,184.8 342.0,191.1 342.2,192.0 342.5,191.2 342.7,196.3 343.0,195.2 343.2,189.5 343.5,196.8 343.8,201.7 344.0,194.7 344.3,192.1 344.5,186.8 344.8,196.6 345.0,197.7 345.3,193.2 345.6,194.4 345.8,192.7 346.1,196.2 346.3,193.1 346.6,196.7 346.8,189.8 347.1,193.1 347.4,191.8 347.6,196.5 347.9,201.0 348.1,194.6 348.4,195.0 348.6,190.0 348.9,190.6 349.2,195.2 349.4,195.4 349.7,199.7 349.9,195.5 350.2,194.5 350.4,197.4 350.7,200.5 351.0,190.0 351.2,199.9 351.5,188.5 351.7,190.7 352.0,189.2 352.2,199.9 352.5,193.4 352.8,202.5 353.0,198.0 353.3,203.3 353.5,199.9 353.8,198.9 354.1,192.5 354.3,192.0 354.6,198.6 354.8,198.3 355.1,201.3 355.3,202.3 355.6,205.2 355.9,198.3 356.1,194.8 356.4,201.0 356.6,196.0 356.9,202.8 357.1,202.3 357.4,200.3 357.7,194.0 357.9,200.4 358.2,194.7 358.4,199.8 358.7,203.2 358.9,207.3 359.2,200.6 359.5,202.8 359.7,194.6 360.0,196.8 360.2,206.1 360.5,195.1 360.7,196.6 361.0,210.8 361.3,203.7 361.5,198.1 361.8,206.3 362.0,202.6 362.3,197.1 362.5,198.4 362.8,197.6 363.1,197.0 363.3,203.7 363.6,189.3 363.8,197.6 364.1,190.5 364.3,201.2 364.6,197.7 364.9,198.7 365.1,200.9 365.4,199.0 365.6,199.3 365.9,196.9 366.1,199.2 366.4,200.4 366.7,198.6 366.9,194.4 367.2,200.6 367.4,198.3 367.7,200.4 368.0,209.8 368.2,205.2 368.5,205.3 368.7,207.5 369.0,204.1 369.2,209.3 369.5,200.4 369.8,204.0 370.0,196.3 370.3,200.1 370.5,207.4 370.8,202.9 371.0,201.8 371.3,205.0 371.6,203.7 371.8,207.0 372.1,205.5 372.3,201.1 372.6,203.9 372.8,197.2 373.1,211.9 373.4,206.1 373.6,204.3 373.9,196.3 374.1,197.9 374.4,199.6 374.6,198.7 374.9,196.0 375.2,200.1 375.4,204.2 375.7,202.4 375.9,206.5 376.2,204.4 376.4,201.8 376.7,205.7 377.0,203.1 377.2,205.6 377.5,209.5 377.7,210.1 378.0,200.8 378.2,203.8 378.5,200.4 378.8,204.5 379.0,204.2 379.3,203.0 379.5,205.8 379.8,198.3 380.0,200.0 380.3,202.7 380.6,209.1 380.8,207.0 381.1,203.8 381.3,199.7 381.6,205.0 381.8,205.0 382.1,202.7 382.4,204.5 382.6,205.8 382.9,210.1 383.1,199.9 383.4,205.5 383.7,207.6 383.9,205.9 384.2,211.3 384.4,212.9 384.7,213.4 384.9,204.1 385.2,211.6 385.5,205.3 385.7,211.1 386.0,213.7 386.2,208.7 386.5,209.3 386.7,209.2 387.0,198.7 387.3,205.4 387.5,208.9 387.8,202.6 388.0,207.9 388.3,201.2 388.5,213.4 388.8,201.9 389.1,211.5 389.3,210.0 389.6,206.0 389.8,211.6 390.1,214.2 390.3,208.8 390.6,208.4 390.9,214.3 391.1,203.0 391.4,210.9 391.6,210.1 391.9,208.4 392.1,207.3 392.4,202.9 392.7,217.0 392.9,207.6 393.2,203.8 393.4,206.7 393.7,208.2 393.9,212.8 394.2,206.5 394.5,210.1 394.7,207.5 395.0,212.8 395.2,209.6 395.5,208.9 395.7,214.8 396.0,203.9 396.3,208.9 396.5,214.1 396.8,209.6 397.0,208.0 397.3,210.1 397.6,213.2 397.8,209.7 398.1,214.8 398.3,216.1 398.6,203.8 398.8,201.5 399.1,200.9 399.4,199.2 399.6,203.2 399.9,213.3 400.1,211.7 400.4,204.5 400.6,211.4 400.9,210.9 401.2,209.5 401.4,207.7 401.7,215.5 401.9,209.5 402.2,207.5 402.4,218.7 402.7,204.9 403.0,206.5 403.2,213.4 403.5,201.9 403.7,208.2 404.0,207.9 404.2,203.3 404.5,221.4 404.8,210.2 405.0,205.6 405.3,204.1 405.5,210.5 405.8,211.2 406.0,213.8 406.3,212.0 406.6,214.3 406.8,221.1 407.1,213.2 407.3,215.1 407.6,213.4 407.8,212.8 408.1,213.0 408.4,210.5 408.6,211.3 408.9,212.6 409.1,213.8 409.4,211.6 409.6,212.5 409.9,211.8 410.2,205.2 410.4,210.3 410.7,213.1 410.9,220.4 411.2,217.8 411.5,222.9 411.7,207.7 412.0,206.8 412.2,213.4 412.5,213.8 412.7,209.7 413.0,209.3 413.3,219.5 413.5,213.0 413.8,213.3 414.0,217.5 414.3,205.9 414.5,208.8 414.8,214.8 415.1,212.4 415.3,214.7 415.6,214.5 415.8,214.1 416.1,207.9 416.3,212.4 416.6,214.5 416.9,215.5 417.1,211.4 417.4,216.4 417.6,219.7 417.9,213.3 418.1,205.8 418.4,215.7 418.7,212.1 418.9,213.7 419.2,207.5 419.4,210.8 419.7,218.5 419.9,205.4 420.2,213.0 420.5,217.1 420.7,215.3 421.0,212.9 421.2,208.5 421.5,214.5 421.7,216.5 422.0,207.5 422.3,206.5 422.5,214.9 422.8,212.8 423.0,211.8 423.3,214.8 423.5,217.5 423.8,209.0 424.1,218.4 424.3,221.7 424.6,211.1 424.8,208.6 425.1,210.2 425.4,217.1 425.6,214.9 425.9,218.6 426.1,216.2 426.4,224.7 426.6,217.8 426.9,208.0 427.2,219.2 427.4,206.5 427.7,213.3 427.9,222.7 428.2,210.0 428.4,218.4 428.7,211.8 429.0,215.1 429.2,215.9 429.5,215.1 429.7,220.2 430.0,217.8 430.2,216.2 430.5,206.7 430.8,217.1 431.0,213.1 431.3,212.6 431.5,209.3 431.8,215.7 432.0,213.8 432.3,218.8 432.6,203.6 432.8,221.3 433.1,213.7 433.3,216.4 433.6,214.2 433.8,217.2 434.1,216.9 434.4,210.7 434.6,210.8 434.9,215.4 435.1,215.7 435.4,214.3 435.6,215.5 435.9,213.3 436.2,211.9 436.4,213.2 436.7,222.2 436.9,215.6 437.2,220.0 437.4,213.4 437.7,216.7 438.0,214.1 438.2,215.9 438.5,211.4 438.7,209.6 439.0,214.8 439.2,222.2 439.5,215.6 439.8,207.0 440.0,218.7 440.3,216.1 440.5,205.0 440.8,208.4 441.1,213.0 441.3,214.9 441.6,221.7 441.8,208.7 442.1,212.0 442.3,223.4 442.6,216.6 442.9,216.6 443.1,216.4 443.4,219.0 443.6,205.3 443.9,220.0 444.1,209.8 444.4,213.5 444.7,216.3 444.9,214.3 445.2,213.1 445.4,219.8 445.7,218.0 445.9,211.1 446.2,212.3 446.5,214.8 446.7,221.8 447.0,223.7 447.2,210.0 447.5,210.3 447.7,214.4 448.0,215.0 448.3,218.2 448.5,214.6 448.8,211.5 449.0,213.5 449.3,219.2 449.5,215.3 449.8,219.3 450.1,217.2 450.3,221.8 450.6,227.4 450.8,221.6 451.1,216.2 451.3,220.6 451.6,214.7 451.9,219.6 452.1,215.9 452.4,219.2 452.6,210.9 452.9,219.0 453.1,217.2 453.4,212.3 453.7,210.8 453.9,222.5 454.2,211.0 454.4,222.1 454.7,221.7 455.0,221.2 455.2,213.1 455.5,222.2 455.7,215.0 456.0,215.8 456.2,218.5 456.5,215.7 456.8,208.6 457.0,210.7 457.3,221.4 457.5,216.6 457.8,219.5 458.0,218.4 458.3,220.2 458.6,215.5 458.8,221.7 459.1,223.4 459.3,217.8 459.6,216.6 459.8,212.8 460.1,215.1 460.4,221.9 460.6,222.2 460.9,216.8 461.1,217.1 461.4,215.1 461.6,212.5 461.9,228.1 462.2,221.0 462.4,216.0 462.7,223.1 462.9,211.1 463.2,218.8 463.4,215.9 463.7,219.4 464.0,217.0 464.2,216.8 464.5,216.2 464.7,224.6 465.0,227.0 465.2,219.0 465.5,215.2 465.8,219.8 466.0,219.5 466.3,214.1 466.5,215.9 466.8,223.0 467.0,218.1 467.3,219.8 467.6,218.6 467.8,219.3 468.1,216.4 468.3,219.1 468.6,217.5 468.9,218.9 469.1,220.0 469.4,221.6 469.6,217.9 469.9,217.2 470.1,212.3 470.4,208.4 470.7,222.2 470.9,222.1 471.2,214.7 471.4,221.1 471.7,218.8 471.9,224.9 472.2,216.8 472.5,225.8 472.7,215.1 473.0,223.1 473.2,218.5 473.5,215.2 473.7,223.2 474.0,220.1 474.3,210.3 474.5,225.7 474.8,219.1 475.0,228.4 475.3,218.2 475.5,220.5 475.8,224.6 476.1,225.0 476.3,214.4 476.6,216.9 476.8,225.1 477.1,216.3 477.3,223.9 477.6,223.4 477.9,218.2 478.1,220.5 478.4,217.7 478.6,215.3 478.9,222.8 479.1,217.7 479.4,218.8 479.7,227.3 479.9,216.7 480.2,215.8 480.4,226.2 480.7,221.6 480.9,216.0 481.2,216.4 481.5,221.9 481.7,221.3 482.0,221.7 482.2,225.7 482.5,219.9 482.8,211.2 483.0,226.6 483.3,220.6 483.5,224.6 483.8,213.9 484.0,227.7 484.3,216.7 484.6,218.6 484.8,224.3 485.1,222.0 485.3,220.4 485.6,213.2 485.8,219.5 486.1,215.5 486.4,216.1 486.6,220.3 486.9,220.6 487.1,221.1 487.4,213.7 487.6,215.2 487.9,216.6 488.2,223.8 488.4,222.1 488.7,217.6 488.9,221.8 489.2,226.9 489.4,227.5 489.7,219.0 490.0,217.7 490.2,218.7 490.5,214.3 490.7,228.0 491.0,229.0 491.2,220.7 491.5,217.4 491.8,224.9 492.0,220.2 492.3,219.9 492.5,223.4 492.8,225.0 493.0,222.8 493.3,221.8 493.6,218.2 493.8,222.7 494.1,225.7 494.3,226.2 494.6,223.5 494.8,219.3 495.1,225.3 495.4,223.2 495.6,219.3 495.9,220.5 496.1,212.7 496.4,219.5 496.7,219.0 496.9,212.5 497.2,229.9 497.4,229.4 497.7,225.2 497.9,221.3 498.2,216.7 498.5,218.9 498.7,224.3 499.0,228.3 499.2,220.4 499.5,223.2 499.7,226.3 500.0,227.5 500.3,219.1 500.5,223.4 500.8,221.3 501.0,222.6 501.3,225.6 501.5,224.3 501.8,225.0 502.1,222.6 502.3,225.4 502.6,219.7 502.8,226.7 503.1,221.4 503.3,221.9 503.6,219.8 503.9,233.8 504.1,219.8 504.4,221.1 504.6,224.6 504.9,224.2 505.1,224.4 505.4,229.2 505.7,211.2 505.9,223.7 506.2,220.9 506.4,228.1 506.7,224.9 506.9,233.3 507.2,223.5 507.5,226.9 507.7,223.1 508.0,221.3 508.2,217.3 508.5,223.0 508.7,228.0 509.0,225.5 509.3,220.8 509.5,215.3 509.8,234.1 510.0,228.9 510.3,226.5 510.5,224.2 510.8,220.7 511.1,217.4 511.3,221.0 511.6,217.3 511.8,226.4 512.1,227.2 512.4,230.8 512.6,227.1 512.9,220.8 513.1,223.7 513.4,215.0 513.6,225.2 513.9,228.2 514.2,221.5 514.4,232.8 514.7,220.4 514.9,222.5 515.2,230.1 515.4,222.0 515.7,223.1 516.0,218.7 516.2,225.3 516.5,226.6 516.7,224.2 517.0,224.8 517.2,228.8 517.5,220.3 517.8,220.1 518.0,227.5 518.3,226.9 518.5,229.1 518.8,226.5 519.0,227.5 519.3,224.6 519.6,221.6 519.8,217.9 520.1,228.6 520.3,228.0 520.6,229.7 520.8,224.8 521.1,221.3 521.4,228.6 521.6,224.8 521.9,229.1 522.1,231.0 522.4,227.2 522.6,221.2 522.9,226.4 523.2,232.6 523.4,229.3 523.7,226.3 523.9,216.3 524.2,230.2 524.4,212.7 524.7,220.7 525.0,219.5 525.2,220.9 525.5,235.4 525.7,224.1 526.0,224.0 526.3,222.8 526.5,219.5 526.8,225.4 527.0,228.6 527.3,223.0 527.5,224.4 527.8,223.2 528.1,227.1 528.3,225.3 528.6,235.7 528.8,224.2 529.1,220.6 529.3,224.7 529.6,225.5 529.9,222.4 530.1,226.5 530.4,226.1 530.6,217.6 530.9,217.5 531.1,233.0 531.4,227.8 531.7,223.9 531.9,221.8 532.2,230.4 532.4,227.7 532.7,222.3 532.9,219.9 533.2,229.4 533.5,226.6 533.7,226.5 534.0,220.3 534.2,223.1 534.5,223.4 534.7,217.0 535.0,221.7 535.3,224.7 535.5,218.2 535.8,217.9 536.0,218.8 536.3,217.0 536.5,223.4 536.8,234.2 537.1,226.7 537.3,224.3 537.6,225.3 537.8,221.7 538.1,223.9 538.3,216.5 538.6,222.5 538.9,220.9 539.1,219.8 539.4,218.6 539.6,227.3 539.9,218.7 540.2,225.2 540.4,234.1 540.7,217.5 540.9,223.9 541.2,219.7 541.4,229.9 541.7,222.3 542.0,228.5 542.2,214.6 542.5,218.4 542.7,225.6 543.0,236.0 543.2,225.0 543.5,224.0 543.8,225.7 544.0,223.7 544.3,226.7 544.5,222.5 544.8,223.5 545.0,228.8 545.3,221.7 545.6,223.0 545.8,226.1 546.1,228.6 546.3,229.6 546.6,215.2 546.8,215.1 547.1,222.0 547.4,227.5 547.6,222.2 547.9,229.0 548.1,230.2 548.4,234.5 548.6,228.2 548.9,228.8 549.2,221.0 549.4,224.0 549.7,228.7 549.9,227.3 550.2,226.4 550.4,226.0 550.7,225.8 551.0,220.7 551.2,232.5 551.5,225.0 551.7,225.3 552.0,222.2 552.2,226.2 552.5,229.3 552.8,222.2 553.0,220.9 553.3,229.3 553.5,221.1 553.8,214.5 554.1,228.1 554.3,222.9 554.6,237.3 554.8,224.8 555.1,229.9 555.3,223.9 555.6,226.9 555.9,224.6 556.1,221.0 556.4,221.7 556.6,221.8 556.9,228.9 557.1,226.9 557.4,226.1 557.7,227.9 557.9,229.6 558.2,225.8 558.4,223.8 558.7,227.0 558.9,231.2 559.2,221.4 559.5,228.8 559.7,218.4 560.0,224.9 560.2,225.1 560.5,220.6 560.7,225.8 561.0,231.6 561.3,225.5 561.5,235.1 561.8,224.7 562.0,225.8 562.3,223.9 562.5,226.2 562.8,218.0 563.1,225.5 563.3,228.3 563.6,215.0 563.8,226.3 564.1,222.9 564.3,227.1 564.6,227.7 564.9,226.7 565.1,229.1 565.4,226.6 565.6,227.5 565.9,228.8 566.1,230.1 566.4,228.0 566.7,237.2 566.9,225.3 567.2,237.9 567.4,228.3 567.7,227.1 567.9,229.7 568.2,226.7 568.5,218.5 568.7,226.2 569.0,229.0 569.2,225.3 569.5,230.1 569.8,235.1 570.0,230.5 570.3,224.3 570.5,228.0 570.8,224.6 571.0,224.0 571.3,235.7 571.6,233.7 571.8,231.0 572.1,232.9 572.3,224.6 572.6,231.3 572.8,232.4 573.1,221.3 573.4,233.4 573.6,233.1 573.9,222.0 574.1,227.0 574.4,228.2 574.6,225.0 574.9,230.2 575.2,228.9 575.4,229.0 575.7,222.2 575.9,227.9 576.2,233.5 576.4,233.1 576.7,225.4 577.0,233.7 577.2,234.0 577.5,230.5 577.7,234.8 578.0,226.6 578.2,218.5 578.5,219.1 578.8,226.8 579.0,221.1 579.3,226.6 579.5,227.5 579.8,224.6 580.0,227.3 580.3,229.5 580.6,228.0 580.8,228.8 581.1,226.1 581.3,223.0 581.6,233.0 581.8,230.0 582.1,232.8 582.4,220.5 582.6,224.5 582.9,226.8 583.1,232.0 583.4,223.6 583.7,232.5 583.9,234.9 584.2,231.0 584.4,222.3 584.7,228.3 584.9,229.8 585.2,230.6 585.5,223.9 585.7,231.8 586.0,230.6 586.2,225.5 586.5,225.2 586.7,228.4 587.0,225.8 587.3,226.3 587.5,236.7 587.8,227.8 588.0,230.6 588.3,228.5 588.5,228.1 588.8,226.8 589.1,224.3 589.3,232.3 589.6,230.9 589.8,230.1 590.1,228.3 590.3,234.9 590.6,227.8 590.9,224.7 591.1,230.7 591.4,236.1 591.6,224.9 591.9,222.0 592.1,226.1 592.4,221.4 592.7,223.0 592.9,228.5 593.2,229.3 593.4,217.8 593.7,225.0 593.9,229.8 594.2,222.4 594.5,231.6 594.7,229.9 595.0,222.2 595.2,223.8 595.5,230.2 595.7,223.9 596.0,224.6 596.3,237.7 596.5,228.8 596.8,224.1 597.0,227.2 597.3,232.7 597.6,224.7 597.8,230.6 598.1,224.6 598.3,226.8 598.6,223.4 598.8,231.5 599.1,220.0 599.4,229.3 599.6,229.2 599.9,230.6 600.1,228.8 600.4,227.6 600.6,229.7 600.9,225.5 601.2,225.8 601.4,229.1 601.7,228.7 601.9,227.4 602.2,224.3 602.4,222.6 602.7,232.5 603.0,225.2 603.2,225.3 603.5,234.3 603.7,226.5" stroke="#C8508C"/>
<path d="M279.4,13.8 279.7,17.9 279.9,25.8 280.2,31.0 280.4,32.3 280.7,35.4 281.0,42.0 281.2,49.7 281.5,53.3 281.7,55.2 282.0,65.9 282.3,65.8 282.5,71.5 282.8,75.9 283.0,79.4 283.3,86.1 283.5,88.8 283.8,88.0 284.1,96.1 284.3,99.3 284.6,104.5 284.8,105.1 285.1,104.8 285.3,106.0 285.6,109.8 285.9,112.0 286.1,114.1 286.4,116.7 286.6,116.8 286.9,121.5 287.1,119.9 287.4,124.5 287.7,130.2 287.9,130.9 288.2,129.3 288.4,131.5 288.7,135.1 288.9,135.1 289.2,133.7 289.5,134.4 289.7,134.4 290.0,141.0 290.2,138.6 290.5,138.0 290.7,141.4 291.0,138.3 291.3,146.7 291.5,146.5 291.8,147.1 292.0,150.3 292.3,150.3 292.5,150.6 292.8,152.7 293.1,155.4 293.3,156.4 293.6,156.2 293.8,162.4 294.1,157.2 294.3,162.7 294.6,160.5 294.9,164.4 295.1,160.8 295.4,163.4 295.6,163.7 295.9,166.3 296.2,163.8 296.4,158.8 296.7,172.7 296.9,164.4 297.2,166.2 297.4,169.4 297.7,173.7 298.0,162.8 298.2,169.1 298.5,166.5 298.7,172.8 299.0,175.1 299.2,168.0 299.5,170.0 299.8,175.1 300.0,175.3 300.3,172.4 300.5,179.0 300.8,179.7 301.0,176.9 301.3,173.0 301.6,174.1 301.8,177.5 302.1,173.1 302.3,180.0 302.6,181.9 302.8,170.3 303.1,182.9 303.4,178.6 303.6,179.3 303.9,181.6 304.1,181.5 304.4,180.0 304.6,181.0 304.9,186.3 305.2,184.2 305.4,178.7 305.7,181.9 305.9,187.3 306.2,185.6 306.4,190.5 306.7,192.1 307.0,189.3 307.2,180.6 307.5,190.5 307.7,196.6 308.0,189.1 308.2,191.9 308.5,186.2 308.8,184.4 309.0,191.5 309.3,189.9 309.5,194.6 309.8,186.0 310.1,194.6 310.3,191.8 310.6,182.1 310.8,196.5 311.1,192.2 311.3,193.4 311.6,191.6 311.9,191.9 312.1,187.8 312.4,192.4 312.6,192.2 312.9,200.3 313.1,193.6 313.4,201.3 313.7,190.7 313.9,196.4 314.2,192.3 314.4,198.7 314.7,195.9 314.9,196.8 315.2,195.0 315.5,198.1 315.7,200.4 316.0,199.7 316.2,201.1 316.5,202.5 316.7,204.0 317.0,205.3 317.3,191.2 317.5,202.7 317.8,204.5 318.0,195.8 318.3,199.0 318.5,201.0 318.8,195.8 319.1,193.0 319.3,204.7 319.6,195.3 319.8,199.1 320.1,196.8 320.3,204.2 320.6,195.0 320.9,197.4 321.1,213.7 321.4,197.4 321.6,197.3 321.9,209.1 322.1,202.0 322.4,204.4 322.7,202.9 322.9,207.7 323.2,201.5 323.4,201.3 323.7,205.1 324.0,205.2 324.2,212.4 324.5,203.0 324.7,210.9 325.0,205.6 325.2,209.3 325.5,195.0 325.8,206.2 326.0,199.9 326.3,206.8 326.5,207.0 326.8,203.9 327.0,207.4 327.3,197.5 327.6,208.4 327.8,200.9 328.1,213.1 328.3,212.1 328.6,205.6 328.8,214.5 329.1,200.4 329.4,206.7 329.6,208.8 329.9,201.8 330.1,211.8 330.4,213.0 330.6,221.1 330.9,218.5 331.2,211.7 331.4,219.4 331.7,207.5 331.9,206.7 332.2,209.2 332.4,218.3 332.7,215.2 333.0,217.6 333.2,208.8 333.5,207.6 333.7,213.2 334.0,212.1 334.2,211.6 334.5,209.6 334.8,216.8 335.0,217.2 335.3,209.9 335.5,211.3 335.8,211.6 336.0,213.6 336.3,210.7 336.6,212.2 336.8,217.0 337.1,207.2 337.3,210.0 337.6,215.9 337.8,215.5 338.1,218.3 338.4,221.4 338.6,220.1 338.9,221.9 339.1,218.7 339.4,214.7 339.7,216.5 339.9,222.6 340.2,217.5 340.4,219.5 340.7,221.7 340.9,212.4 341.2,221.9 341.5,213.7 341.7,225.0 342.0,216.8 342.2,221.2 342.5,214.2 342.7,216.8 343.0,222.1 343.3,216.1 343.5,213.6 343.8,213.5 344.0,213.1 344.3,221.2 344.5,210.5 344.8,222.5 345.1,220.8 345.3,227.0 345.6,221.5 345.8,227.0 346.1,220.5 346.3,228.7 346.6,213.2 346.9,218.0 347.1,214.8 347.4,216.7 347.6,221.3 347.9,220.1 348.1,221.5 348.4,230.6 348.7,227.8 348.9,224.6 349.2,219.0 349.4,229.2 349.7,222.6 349.9,226.0 350.2,220.5 350.5,220.6 350.7,228.6 351.0,229.2 351.2,218.0 351.5,220.0 351.7,224.9 352.0,221.3 352.3,224.8 352.5,223.2 352.8,227.1 353.0,223.2 353.3,218.5 353.6,219.6 353.8,220.6 354.1,225.7 354.3,222.2 354.6,228.4 354.8,228.0 355.1,226.2 355.4,231.8 355.6,226.3 355.9,234.8 356.1,220.4 356.4,224.0 356.6,226.5 356.9,231.0 357.2,230.7 357.4,230.0 357.7,235.6 357.9,230.5 358.2,232.7 358.4,225.2 358.7,223.3 359.0,222.9 359.2,235.3 359.5,235.5 359.7,223.5 360.0,226.4 360.2,225.4 360.5,227.2 360.8,229.3 361.0,221.2 361.3,226.8 361.5,227.8 361.8,235.2 362.0,230.3 362.3,225.3 362.6,228.9 362.8,227.5 363.1,232.4 363.3,228.7 363.6,234.4 363.8,232.9 364.1,227.5 364.4,224.9 364.6,233.9 364.9,233.6 365.1,233.8 365.4,233.7 365.6,232.9 365.9,229.4 366.2,231.8 366.4,233.5 366.7,231.7 366.9,241.5 367.2,234.5 367.5,225.4 367.7,238.6 368.0,236.8 368.2,233.3 368.5,230.2 368.7,235.8 369.0,239.4 369.3,228.2 369.5,245.3 369.8,239.2 370.0,238.6 370.3,245.6 370.5,229.7 370.8,227.2 371.1,242.5 371.3,237.8 371.6,237.3 371.8,233.2 372.1,237.3 372.3,234.1 372.6,234.6 372.9,237.4 373.1,236.7 373.4,230.9 373.6,236.4 373.9,234.5 374.1,237.6 374.4,234.4 374.7,230.6 374.9,237.4 375.2,240.0 375.4,241.3 375.7,233.7 375.9,241.7 376.2,236.4 376.5,227.5 376.7,237.7 377.0,231.0 377.2,238.9 377.5,239.4 377.7,236.6 378.0,243.1 378.3,250.0 378.5,239.7 378.8,242.8 379.0,238.9 379.3,231.3 379.5,237.3 379.8,246.8 380.1,238.4 380.3,248.2 380.6,250.0 380.8,231.2 381.1,244.8 381.4,250.5 381.6,241.3 381.9,241.9 382.1,239.1 382.4,242.0 382.6,242.3 382.9,237.8 383.2,242.4 383.4,245.1 383.7,240.3 383.9,244.5 384.2,237.3 384.4,242.1 384.7,243.1 385.0,244.3 385.2,239.9 385.5,238.2 385.7,244.1 386.0,252.6 386.2,239.5 386.5,246.5 386.8,240.5 387.0,246.0 387.3,241.6 387.5,244.7 387.8,247.2 388.0,249.5 388.3,244.3 388.6,243.3 388.8,251.3 389.1,254.9 389.3,243.1 389.6,234.7 389.8,248.0 390.1,245.7 390.4,249.4 390.6,250.3 390.9,238.2 391.1,252.1 391.4,243.8 391.6,248.3 391.9,242.5 392.2,238.2 392.4,244.5 392.7,246.6 392.9,240.5 393.2,246.8 393.4,253.7 393.7,239.6 394.0,247.9 394.2,244.7 394.5,235.8 394.7,241.6 395.0,244.4 395.3,238.5 395.5,249.9 395.8,253.4 396.0,251.1 396.3,245.7 396.5,245.2 396.8,249.3 397.1,236.8 397.3,242.7 397.6,245.6 397.8,249.6 398.1,246.8 398.3,245.3 398.6,248.3 398.9,235.5 399.1,239.2 399.4,243.9 399.6,246.8 399.9,254.7 400.1,242.3 400.4,250.2 400.7,242.4 400.9,245.3 401.2,253.1 401.4,247.1 401.7,248.2 401.9,248.5 402.2,247.9 402.5,247.1 402.7,248.6 403.0,244.0 403.2,245.3 403.5,248.5 403.7,248.5 404.0,249.4 404.3,249.7 404.5,248.8 404.8,247.1 405.0,249.5 405.3,256.5 405.5,247.9 405.8,252.3 406.1,248.5 406.3,237.4 406.6,244.0 406.8,259.2 407.1,256.5 407.3,244.2 407.6,252.3 407.9,255.8 408.1,256.6 408.4,249.6 408.6,252.6 408.9,249.1 409.1,250.5 409.4,249.1 409.7,251.2 409.9,252.9 410.2,246.2 410.4,242.5 410.7,253.3 411.0,250.2 411.2,240.6 411.5,254.5 411.7,254.7 412.0,247.3 412.2,245.8 412.5,249.9 412.8,244.8 413.0,250.5 413.3,249.1 413.5,250.2 413.8,248.7 414.0,250.1 414.3,243.8 414.6,247.0 414.8,243.1 415.1,251.0 415.3,253.9 415.6,253.2 415.8,252.4 416.1,249.1 416.4,252.5 416.6,249.5 416.9,248.9 417.1,256.0 417.4,257.1 417.6,245.1 417.9,253.8 418.2,242.7 418.4,252.4 418.7,257.2 418.9,256.4 419.2,254.8 419.4,240.0 419.7,259.6 420.0,261.8 420.2,255.5 420.5,251.2 420.7,241.5 421.0,247.0 421.2,255.8 421.5,244.6 421.8,245.9 422.0,254.6 422.3,249.1 422.5,250.0 422.8,252.4 423.0,253.8 423.3,254.4 423.6,249.9 423.8,254.3 424.1,248.1 424.3,249.0 424.6,259.2 424.9,250.3 425.1,252.9 425.4,248.7 425.6,253.8 425.9,247.0 426.1,248.6 426.4,248.3 426.7,249.6 426.9,258.6 427.2,252.8 427.4,247.6 427.7,248.5 427.9,249.9 428.2,252.7 428.5,252.9 428.7,258.8 429.0,260.7 429.2,253.6 429.5,249.2 429.7,254.0 430.0,255.3 430.3,253.8 430.5,247.1 430.8,255.8 431.0,253.5 431.3,251.6 431.5,248.4 431.8,251.3 432.1,255.5 432.3,255.5 432.6,258.3 432.8,254.2 433.1,249.0 433.3,252.6 433.6,255.4 433.9,258.4 434.1,255.1 434.4,250.2 434.6,250.8 434.9,251.6 435.1,249.9 435.4,248.3 435.7,252.8 435.9,250.9 436.2,262.3 436.4,250.9 436.7,255.4 436.9,252.8 437.2,258.0 437.5,255.2 437.7,259.0 438.0,254.4 438.2,258.7 438.5,249.5 438.8,255.6 439.0,253.5 439.3,257.0 439.5,254.8 439.8,257.4 440.0,258.1 440.3,252.2 440.6,257.5 440.8,259.6 441.1,256.2 441.3,244.6 441.6,249.9 441.8,253.5 442.1,253.4 442.4,253.3 442.6,252.8 442.9,244.6 443.1,248.0 443.4,254.0 443.6,262.4 443.9,259.0 444.2,253.8 444.4,256.9 444.7,253.0 444.9,256.3 445.2,252.9 445.4,253.1 445.7,257.1 446.0,260.8 446.2,256.5 446.5,258.2 446.7,259.3 447.0,254.9 447.2,250.0 447.5,256.9 447.8,257.1 448.0,260.2 448.3,254.2 448.5,254.4 448.8,254.6 449.0,248.7 449.3,254.3 449.6,251.1 449.8,257.1 450.1,254.0 450.3,259.4 450.6,252.3 450.8,249.4 451.1,259.8 451.4,259.4 451.6,254.7 451.9,255.9 452.1,252.1 452.4,267.6 452.7,258.5 452.9,253.7 453.2,255.0 453.4,260.8 453.7,252.9 453.9,255.6 454.2,256.0 454.5,257.2 454.7,256.7 455.0,253.6 455.2,262.4 455.5,267.9 455.7,253.6 456.0,267.1 456.3,255.5 456.5,256.3 456.8,254.9 457.0,261.4 457.3,254.1 457.5,257.9 457.8,258.7 458.1,257.7 458.3,260.3 458.6,249.5 458.8,259.5 459.1,256.7 459.3,258.2 459.6,255.9 459.9,256.6 460.1,258.1 460.4,256.6 460.6,256.1 460.9,255.9 461.1,252.2 461.4,257.3 461.7,257.3 461.9,254.7 462.2,257.6 462.4,255.2 462.7,254.4 462.9,266.8 463.2,256.6 463.5,258.9 463.7,264.1 464.0,262.7 464.2,263.4 464.5,252.8 464.7,252.2 465.0,257.1 465.3,257.7 465.5,262.2 465.8,248.2 466.0,250.7 466.3,256.3 466.5,261.0 466.8,258.0 467.1,260.3 467.3,262.9 467.6,262.3 467.8,261.6 468.1,260.5 468.4,255.8 468.6,261.9 468.9,255.6 469.1,256.8 469.4,253.4 469.6,251.8 469.9,247.5 470.2,253.5 470.4,259.5 470.7,258.8 470.9,246.7 471.2,262.6 471.4,257.5 471.7,252.5 472.0,257.9 472.2,255.8 472.5,250.1 472.7,254.0 473.0,257.7 473.2,255.4 473.5,256.7 473.8,255.1 474.0,255.5 474.3,259.4 474.5,257.8 474.8,257.0 475.0,259.0 475.3,260.4 475.6,254.1 475.8,267.9 476.1,259.4 476.3,253.7 476.6,256.9 476.8,263.4 477.1,262.6 477.4,249.8 477.6,255.4 477.9,258.7 478.1,258.0 478.4,259.7 478.6,256.9 478.9,262.4 479.2,257.8 479.4,258.9 479.7,257.7 479.9,254.6 480.2,266.4 480.4,259.1 480.7,257.9 481.0,257.8 481.2,258.8 481.5,257.0 481.7,254.0 482.0,260.7 482.3,257.9 482.5,255.4 482.8,259.5 483.0,254.3 483.3,261.8 483.5,253.6 483.8,257.7 484.1,252.6 484.3,252.9 484.6,262.9 484.8,254.8 485.1,256.7 485.3,258.5 485.6,260.7 485.9,257.3 486.1,260.0 486.4,258.8 486.6,258.9 486.9,258.6 487.1,260.1 487.4,265.1 487.7,258.3 487.9,270.7 488.2,257.9 488.4,259.7 488.7,259.6 488.9,261.5 489.2,257.9 489.5,257.0 489.7,261.4 490.0,261.9 490.2,263.5 490.5,264.5 490.7,257.4 491.0,259.7 491.3,253.3 491.5,266.0 491.8,264.3 492.0,258.8 492.3,261.4 492.5,258.0 492.8,263.1 493.1,254.0 493.3,260.6 493.6,257.9 493.8,254.7 494.1,264.7 494.3,261.2 494.6,264.1 494.9,255.9 495.1,267.3 495.4,261.8 495.6,262.5 495.9,255.8 496.2,252.6 496.4,259.4 496.7,251.5 496.9,256.7 497.2,265.6 497.4,260.5 497.7,264.2 498.0,256.4 498.2,257.9 498.5,258.5 498.7,263.6 499.0,260.8 499.2,265.1 499.5,260.2 499.8,253.8 500.0,260.9 500.3,253.7 500.5,259.3 500.8,261.3 501.0,257.6 501.3,266.2 501.6,253.2 501.8,258.9 502.1,264.9 502.3,256.8 502.6,264.2 502.8,256.1 503.1,254.7 503.4,255.9 503.6,265.3 503.9,261.6 504.1,255.5 504.4,258.1 504.6,257.9 504.9,250.0 505.2,255.8 505.4,261.3 505.7,265.3 505.9,263.1 506.2,266.6 506.4,263.7 506.7,259.8 507.0,265.9 507.2,260.2 507.5,262.7 507.7,258.3 508.0,266.0 508.2,263.7 508.5,260.3 508.8,258.3 509.0,260.1 509.3,271.9 509.5,261.6 509.8,268.7 510.1,261.3 510.3,264.9 510.6,264.9 510.8,263.0 511.1,258.6 511.3,261.0 511.6,258.4 511.9,260.8 512.1,262.7 512.4,255.4 512.6,252.4 512.9,264.0 513.1,260.4 513.4,267.1 513.7,260.8 513.9,264.6 514.2,255.3 514.4,259.2 514.7,259.9 514.9,256.2 515.2,259.5 515.5,272.3 515.7,254.1 516.0,253.8 516.2,260.4 516.5,255.8 516.7,258.9 517.0,267.3 517.3,267.8 517.5,254.7 517.8,257.2 518.0,253.9 518.3,252.7 518.5,261.8 518.8,257.9 519.1,258.3 519.3,257.9 519.6,258.8 519.8,263.3 520.1,259.7 520.3,269.3 520.6,259.2 520.9,263.2 521.1,264.4 521.4,259.7 521.6,259.8 521.9,260.0 522.1,264.5 522.4,264.0 522.7,262.4 522.9,262.0 523.2,263.1 523.4,266.0 523.7,260.6 524.0,264.4 524.2,261.7 524.5,266.0 524.7,271.6 525.0,261.1 525.2,259.9 525.5,262.2 525.8,257.6 526.0,260.8 526.3,262.4 526.5,256.4 526.8,260.2 527.0,264.6 527.3,261.0 527.6,263.4 527.8,265.7 528.1,258.7 528.3,262.3 528.6,264.0 528.8,262.1 529.1,253.0 529.4,255.2 529.6,256.3 529.9,266.5 530.1,268.3 530.4,261.9 530.6,261.4 530.9,259.1 531.2,261.2 531.4,258.5 531.7,266.0 531.9,258.8 532.2,262.4 532.4,257.9 532.7,259.5 533.0,269.4 533.2,262.1 533.5,256.3 533.7,257.2 534.0,258.2 534.2,264.0 534.5,263.9 534.8,258.8 535.0,267.1 535.3,258.7 535.5,262.8 535.8,257.7 536.0,255.9 536.3,262.1 536.6,265.3 536.8,264.7 537.1,261.2 537.3,273.6 537.6,259.4 537.8,262.6 538.1,258.1 538.4,253.7 538.6,271.9 538.9,267.8 539.1,262.8 539.4,269.1 539.7,262.6 539.9,254.1 540.2,267.5 540.4,266.8 540.7,264.3 540.9,258.4 541.2,267.6 541.5,260.4 541.7,262.6 542.0,263.1 542.2,270.3 542.5,262.8 542.7,262.0 543.0,268.6 543.3,252.5 543.5,262.3 543.8,266.5 544.0,261.5 544.3,264.1 544.5,263.0 544.8,268.1 545.1,259.0 545.3,263.0 545.6,265.0 545.8,259.3 546.1,267.2 546.3,260.9 546.6,261.0 546.9,258.3 547.1,256.9 547.4,260.7 547.6,260.8 547.9,266.1 548.1,273.7 548.4,259.2 548.7,259.4 548.9,268.5 549.2,272.9 549.4,268.2 549.7,268.9 549.9,261.9 550.2,259.8 550.5,265.7 550.7,268.7 551.0,260.1 551.2,264.5 551.5,269.6 551.7,265.9 552.0,261.0 552.3,262.2 552.5,270.0 552.8,266.4 553.0,263.5 553.3,258.3 553.6,260.8 553.8,255.7 554.1,267.9 554.3,263.2 554.6,267.7 554.8,257.0 555.1,269.8 555.4,265.1 555.6,258.1 555.9,265.1 556.1,261.0 556.4,266.3 556.6,263.0 556.9,251.9 557.2,267.2 557.4,263.4 557.7,260.6 557.9,260.1 558.2,254.0 558.4,267.2 558.7,256.1 559.0,259.3 559.2,263.4 559.5,262.2 559.7,265.1 560.0,257.1 560.2,261.6 560.5,264.6 560.8,260.4 561.0,271.2 561.3,263.7 561.5,268.6 561.8,261.5 562.0,263.3 562.3,265.4 562.6,264.7 562.8,263.5 563.1,262.8 563.3,261.3 563.6,259.3 563.8,254.6 564.1,258.5 564.4,263.0 564.6,263.0 564.9,263.3 565.1,258.9 565.4,265.9 565.6,259.7 565.9,268.4 566.2,270.3 566.4,267.0 566.7,260.6 566.9,263.5 567.2,269.6 567.5,275.0 567.7,262.1 568.0,259.6 568.2,266.1 568.5,268.9 568.7,263.9 569.0,265.1 569.3,263.4 569.5,257.2 569.8,264.1 570.0,270.2 570.3,261.1 570.5,271.2 570.8,260.1 571.1,263.8 571.3,261.8 571.6,262.8 571.8,264.5 572.1,268.1 572.3,263.1 572.6,264.6 572.9,275.2 573.1,260.5 573.4,268.3 573.6,258.9 573.9,258.5 574.1,269.7 574.4,266.1 574.7,259.7 574.9,263.2 575.2,269.3 575.4,273.4 575.7,259.2 575.9,264.2 576.2,257.3 576.5,267.7 576.7,259.2 577.0,263.7 577.2,273.2 577.5,262.3 577.7,268.9 578.0,269.9 578.3,267.3 578.5,263.9 578.8,274.0 579.0,263.2 579.3,264.0 579.5,258.1 579.8,265.7 580.1,261.1 580.3,262.1 580.6,261.8 580.8,261.2 581.1,259.7 581.4,258.7 581.6,261.4 581.9,260.3 582.1,260.1 582.4,262.7 582.6,264.6 582.9,258.8 583.2,264.5 583.4,261.2 583.7,270.6 583.9,255.9 584.2,261.7 584.4,264.5 584.7,264.4 585.0,265.8 585.2,267.3 585.5,257.3 585.7,265.3 586.0,271.0 586.2,269.1 586.5,264.2 586.8,258.3 587.0,262.4 587.3,267.1 587.5,267.7 587.8,262.4 588.0,261.7 588.3,263.8 588.6,266.2 588.8,270.6 589.1,268.8 589.3,264.5 589.6,268.7 589.8,265.7 590.1,267.3 590.4,265.4 590.6,258.3 590.9,260.5 591.1,261.2 591.4,265.0 591.6,265.7 591.9,256.9 592.2,262.4 592.4,261.3 592.7,275.6 592.9,258.2 593.2,259.2 593.4,269.7 593.7,266.9 594.0,262.9 594.2,260.9 594.5,264.3 594.7,263.9 595.0,265.3 595.2,266.6 595.5,258.2 595.8,260.7 596.0,263.8 596.3,266.5 596.5,267.1 596.8,263.9 597.1,267.4 597.3,260.7 597.6,265.6 597.8,260.9 598.1,271.5 598.3,263.0 598.6,264.0 598.9,262.3 599.1,268.4 599.4,264.0 599.6,264.6 599.9,262.3 600.1,261.6 600.4,272.1 600.7,260.1 600.9,260.6 601.2,266.4 601.4,264.3 601.7,253.5 601.9,256.9 602.2,260.8 602.5,261.7 602.7,267.1 603.0,271.9 603.2,265.4 603.5,266.7 603.7,266.5" stroke="#7A55B2"/>
</g>
<rect x="259.3" y="19.8" width="360.59999999999997" height="263.2" fill="none" stroke="#8a8a8a" stroke-width="1.4"/>
<path d="M276.3,283.0v3.6M354.3,283.0v3.6M432.3,283.0v3.6M510.3,283.0v3.6M588.3,283.0v3.6M259.3,282.5h-3.6M259.3,247.5h-3.6M259.3,212.5h-3.6M259.3,177.5h-3.6M259.3,142.5h-3.6M259.3,107.5h-3.6M259.3,72.5h-3.6M259.3,37.5h-3.6" stroke="#555" stroke-width="1" fill="none"/>
<g font-family="Liberation Sans, sans-serif" font-size="15.1" fill="#262626">
<text x="252.9" y="287.8" text-anchor="end" textLength="23.1" lengthAdjust="spacingAndGlyphs">5.0</text>
<text x="252.9" y="252.8" text-anchor="end" textLength="23.1" lengthAdjust="spacingAndGlyphs">5.2</text>
<text x="252.9" y="217.8" text-anchor="end" textLength="23.1" lengthAdjust="spacingAndGlyphs">5.4</text>
<text x="252.9" y="182.8" text-anchor="end" textLength="23.1" lengthAdjust="spacingAndGlyphs">5.6</text>
<text x="252.9" y="147.8" text-anchor="end" textLength="23.1" lengthAdjust="spacingAndGlyphs">5.8</text>
<text x="252.9" y="112.8" text-anchor="end" textLength="23.1" lengthAdjust="spacingAndGlyphs">6.0</text>
<text x="252.9" y="77.8" text-anchor="end" textLength="23.1" lengthAdjust="spacingAndGlyphs">6.2</text>
<text x="252.9" y="42.8" text-anchor="end" textLength="23.1" lengthAdjust="spacingAndGlyphs">6.4</text>
<text x="276.3" y="299.6" text-anchor="middle" textLength="9.2" lengthAdjust="spacingAndGlyphs">0</text>
<text x="354.3" y="299.6" text-anchor="middle" textLength="27.5" lengthAdjust="spacingAndGlyphs">100</text>
<text x="432.3" y="299.6" text-anchor="middle" textLength="27.5" lengthAdjust="spacingAndGlyphs">200</text>
<text x="510.3" y="299.6" text-anchor="middle" textLength="27.5" lengthAdjust="spacingAndGlyphs">300</text>
<text x="588.3" y="299.6" text-anchor="middle" textLength="27.5" lengthAdjust="spacingAndGlyphs">400</text>
<text x="438.8" y="317.6" text-anchor="middle" textLength="192.5" lengthAdjust="spacingAndGlyphs">Number of Tokens (Billion)</text>
<text transform="translate(224.2 151.3) rotate(-90)" text-anchor="middle" textLength="93" lengthAdjust="spacingAndGlyphs">Training Loss</text>
</g>
<rect x="485" y="27" width="127.3" height="90.5" rx="3" fill="#fff" fill-opacity="0.8" stroke="#e2e2e2" stroke-width="1.1"/>
<path d="M489.5,38.8H519.5" stroke="#EDD6A6" stroke-width="1.6"/>
<path d="M489.5,60.5H519.5" stroke="#C2DDEA" stroke-width="1.6"/>
<path d="M489.5,82.0H519.5" stroke="#DDB5CB" stroke-width="1.6"/>
<path d="M489.5,103.6H519.5" stroke="#BDB2D2" stroke-width="1.6"/>
<g font-family="Liberation Sans, sans-serif" font-size="15.1" fill="#262626">
<text x="531.6" y="44.0" textLength="75.2" lengthAdjust="spacingAndGlyphs">LVM-300M</text>
<text x="531.6" y="65.7" textLength="75.2" lengthAdjust="spacingAndGlyphs">LVM-600M</text>
<text x="531.6" y="87.2" textLength="54.4" lengthAdjust="spacingAndGlyphs">LVM-1B</text>
<text x="531.6" y="108.8" textLength="54.4" lengthAdjust="spacingAndGlyphs">LVM-3B</text>
</g>
</svg>
<p class="cap" id="c1"><b id="ca" style="letter-spacing:0.503px">Figure 2. Training loss for the 300M, 600M, 1B, and 3B models.</b><span id="cb" style="letter-spacing:0.598px"> All models are trained on 420B tokens,</span></p>
<p class="cap" id="c2"><span id="cc" style="letter-spacing:0.563px">which correspond to 1.64B images. The training scales well with model sizes.</span></p>
<svg class="wm" width="140" height="50" viewBox="700 340 140 50" role="img" aria-label="新智元">
<g fill="#fff" fill-opacity="0.93" stroke="#9c9c9c" stroke-opacity="0.6" stroke-width="0.9" stroke-linejoin="round">
<path d="M723.6,352.8c-5.6,0 -10.1,3.8 -10.1,8.5c0,2.7 1.5,5.1 3.9,6.7l-1.3,3.3l4,-2.1c1.1,0.3 2.3,0.5 3.5,0.5c5.6,0 10.1,-3.8 10.1,-8.4c0,-4.7 -4.5,-8.5 -10.1,-8.5z"/>
<path d="M736.4,355.9c5.6,0 10.1,3.9 10.1,8.7c0,2.7 -1.4,5.1 -3.7,6.7l1.4,3.9l-4.4,-2.5c-1.1,0.3 -2.2,0.5 -3.4,0.5c-5.6,0 -10.1,-3.9 -10.1,-8.6c0,-4.8 4.5,-8.7 10.1,-8.7z"/>
</g>
<g fill="#7d7d7d" fill-opacity="0.75"><circle cx="720" cy="355.6" r="1.1"/><circle cx="724.6" cy="355.3" r="1.1"/><circle cx="732.9" cy="362.9" r="1.25"/><circle cx="739.4" cy="362.9" r="1.25"/></g>
<text x="752.6" y="371.2" transform="translate(0.7 0.7)" font-family="'Liberation Sans','Noto Sans CJK SC',sans-serif" font-size="20" font-weight="bold" textLength="60" lengthAdjust="spacingAndGlyphs" fill="#6e6e6e" fill-opacity="0.42">新智元</text>
<text x="752.6" y="371.2" font-family="'Liberation Sans','Noto Sans CJK SC',sans-serif" font-size="20" font-weight="bold" textLength="60" lengthAdjust="spacingAndGlyphs" fill="#fff" fill-opacity="0.93" stroke="#8c8c8c" stroke-opacity="0.45" stroke-width="0.6">新智元</text>
</svg>
<div class="banner">
<h1>2024年全新澳门公开解析：免费获取ADC708.24影像版详尽解答</h1>
<svg width="840" height="400" viewBox="0 0 840 400" role="img" aria-label="2024年全新澳门公开解析：免费获取ADC708.24影像版详尽解答">
<g font-family="'Liberation Sans','Noto Sans CJK SC',sans-serif" font-size="30" font-weight="bold" fill="#fff" stroke="#fff" stroke-width="0.7" stroke-linejoin="round" text-anchor="middle">
<text x="420.5" y="192" textLength="749" lengthAdjust="spacingAndGlyphs">2024年全新澳门公开解析：免费获取ADC708.24影像版</text>
<text x="420.7" y="229.5" textLength="118" lengthAdjust="spacingAndGlyphs">详尽解答</text>
</g>
</svg>
</div>
</body>
</html>
